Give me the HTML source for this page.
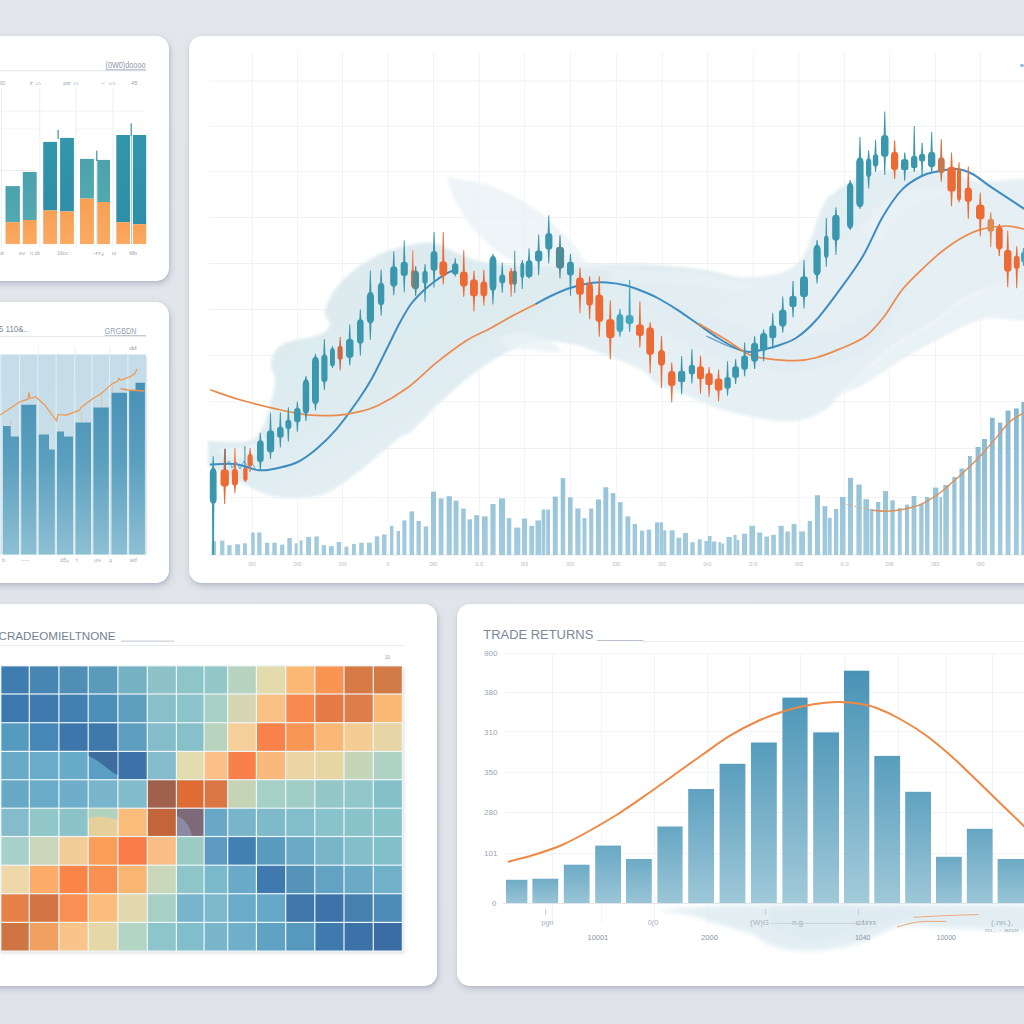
<!DOCTYPE html>
<html lang="en">
<head>
<meta charset="utf-8">
<title>Trading Dashboard</title>
<style>
html,body{margin:0;padding:0;}
body{width:1024px;height:1024px;overflow:hidden;position:relative;
 background:linear-gradient(180deg,#e3e6eb 0%,#e1e5ea 50%,#e0e4ea 100%);
 font-family:"Liberation Sans",sans-serif;}
.panel{position:absolute;background:#fff;border-radius:13px;
 box-shadow:1px 3px 6px rgba(105,115,140,0.34),1px 1px 2px rgba(105,115,140,0.10);overflow:hidden;}
.panel svg{position:absolute;left:0;top:0;display:block;}
#p1{left:-20px;top:36px;width:188.5px;height:245px;}
#p2{left:-20px;top:301.5px;width:188.5px;height:281.5px;}
#p3{left:189px;top:36px;width:860.5px;height:547px;}
#p4{left:-20px;top:604px;width:457px;height:381.5px;}
#p5{left:457px;top:604px;width:600px;height:381.5px;}
text{font-family:"Liberation Sans",sans-serif;}
</style>
</head>
<body>
<svg width="0" height="0" style="position:absolute">
<defs>
<linearGradient id="p1d" x1="0" y1="0" x2="0" y2="1"><stop offset="0" stop-color="#3296ab"/><stop offset="1" stop-color="#2f8ea8"/></linearGradient>
<linearGradient id="p1l" x1="0" y1="0" x2="0" y2="1"><stop offset="0" stop-color="#4aa2ad"/><stop offset="1" stop-color="#53a9b0"/></linearGradient>
<linearGradient id="p1o" x1="0" y1="0" x2="0" y2="1"><stop offset="0" stop-color="#f7a056"/><stop offset="1" stop-color="#fbaa62"/></linearGradient>
<linearGradient id="p2bg" x1="0" y1="0" x2="0" y2="1"><stop offset="0" stop-color="#c3dce8"/><stop offset="1" stop-color="#cfe3ec"/></linearGradient>
<linearGradient id="p2bar" gradientUnits="userSpaceOnUse" x1="0" y1="382" x2="0" y2="554"><stop offset="0" stop-color="#4790b6"/><stop offset="0.45" stop-color="#5a9fbe"/><stop offset="1" stop-color="#8dbfd3"/></linearGradient>
<linearGradient id="vol" gradientUnits="userSpaceOnUse" x1="0" y1="400" x2="0" y2="555"><stop offset="0" stop-color="#84b8d1"/><stop offset="1" stop-color="#a3cbde"/></linearGradient>
<linearGradient id="p5bar" gradientUnits="userSpaceOnUse" x1="0" y1="670" x2="0" y2="903"><stop offset="0" stop-color="#4893b6"/><stop offset="0.5" stop-color="#68a8c4"/><stop offset="1" stop-color="#a3cbda"/></linearGradient>
<linearGradient id="bandg" gradientUnits="userSpaceOnUse" x1="300" y1="250" x2="420" y2="480"><stop offset="0" stop-color="#dbe9ef"/><stop offset="0.6" stop-color="#ddebf0"/><stop offset="1" stop-color="#e5f0f4"/></linearGradient>
<filter id="soft" x="-5%" y="-5%" width="110%" height="110%"><feGaussianBlur stdDeviation="1.6"/></filter>
<filter id="soft2" x="-5%" y="-20%" width="110%" height="140%"><feGaussianBlur stdDeviation="2.5"/></filter>
</defs>
</svg>

<div class="panel" id="p1">
<svg width="188.5" height="245" viewBox="-20 36 188.5 245">
<text x="105.5" y="67.6" font-size="8.5" fill="#8b98a8" textLength="40" lengthAdjust="spacingAndGlyphs">(0W0)doooo</text>
<rect x="0" y="70.4" width="146" height="0.8" fill="#d9dee5"/>
<rect x="105.5" y="69.3" width="40.5" height="1" fill="#a9b3c0"/>
<text x="0" y="85.3" font-size="5.5" fill="#9aa6b5" textLength="6" lengthAdjust="spacingAndGlyphs">6D.</text>
<text x="30" y="85.3" font-size="5.5" fill="#9aa6b5" textLength="11" lengthAdjust="spacingAndGlyphs">r ⌂</text>
<text x="63" y="85.3" font-size="5.5" fill="#9aa6b5" textLength="16" lengthAdjust="spacingAndGlyphs">or ⌂</text>
<text x="101" y="85.3" font-size="5.5" fill="#9aa6b5" textLength="15" lengthAdjust="spacingAndGlyphs">- ⌂</text>
<text x="131" y="85.3" font-size="5.5" fill="#9aa6b5" textLength="6.5" lengthAdjust="spacingAndGlyphs">45</text>
<rect x="1.3" y="88" width="0.7" height="160" fill="#e6e9ee"/>
<rect x="39.5" y="88" width="0.7" height="160" fill="#e6e9ee"/>
<rect x="75.7" y="88" width="0.7" height="160" fill="#e6e9ee"/>
<rect x="112.6" y="88" width="0.7" height="160" fill="#e6e9ee"/>
<rect x="0" y="110.7" width="144" height="0.7" fill="#e9ecf0"/>
<rect x="0" y="128.6" width="40" height="0.7" fill="#eef0f3"/>
<rect x="76" y="128.6" width="36" height="0.7" fill="#eef0f3"/>
<rect x="0" y="170.4" width="36" height="0.7" fill="#e3e7ec"/>
<rect x="5.5" y="186.1" width="14.4" height="36.1" fill="url(#p1l)"/>
<rect x="5.5" y="222.2" width="14.4" height="21.9" fill="url(#p1o)"/>
<rect x="22.8" y="172" width="13.9" height="48" fill="url(#p1l)"/>
<rect x="22.8" y="220" width="13.9" height="24.1" fill="url(#p1o)"/>
<rect x="43.2" y="141.9" width="13.8" height="68.6" fill="url(#p1d)"/>
<rect x="43.2" y="210.5" width="13.8" height="33.6" fill="url(#p1o)"/>
<rect x="60.1" y="137.9" width="13.8" height="73.5" fill="url(#p1d)"/>
<rect x="60.1" y="211.4" width="13.8" height="32.7" fill="url(#p1o)"/>
<rect x="80" y="158.9" width="13.9" height="39.7" fill="url(#p1l)"/>
<rect x="80" y="198.6" width="13.9" height="45.5" fill="url(#p1o)"/>
<rect x="97.2" y="159.9" width="12.8" height="42.1" fill="url(#p1l)"/>
<rect x="97.2" y="202" width="12.8" height="42.1" fill="url(#p1o)"/>
<rect x="116.3" y="135" width="13.7" height="87.2" fill="url(#p1d)"/>
<rect x="116.3" y="222.2" width="13.7" height="21.9" fill="url(#p1o)"/>
<rect x="132.9" y="135" width="13.3" height="89.2" fill="url(#p1d)"/>
<rect x="132.9" y="224.2" width="13.3" height="19.9" fill="url(#p1o)"/>
<rect x="57.5" y="130" width="1.2" height="9" fill="#3c8fa5"/>
<rect x="96.2" y="150.7" width="1.2" height="10.300000000000011" fill="#3c8fa5"/>
<rect x="130.6" y="123.3" width="1.2" height="12.700000000000003" fill="#3c8fa5"/>
<rect x="130.9" y="136" width="0.8" height="108" fill="#7fb6c4"/>
<rect x="96.4" y="161" width="0.8" height="83" fill="#c9dfe2"/>
<rect x="57.9" y="139" width="0.6" height="105" fill="#dfeaec"/>
<text x="0" y="254.8" font-size="5.5" fill="#9aa6b5" textLength="4" lengthAdjust="spacingAndGlyphs">dr</text>
<text x="19" y="254.8" font-size="5.5" fill="#9aa6b5" textLength="6" lengthAdjust="spacingAndGlyphs">ev</text>
<text x="30" y="254.8" font-size="5.5" fill="#9aa6b5" textLength="10" lengthAdjust="spacingAndGlyphs">n cb</text>
<text x="57" y="254.8" font-size="5.5" fill="#9aa6b5" textLength="11" lengthAdjust="spacingAndGlyphs">1llcv</text>
<text x="93" y="254.8" font-size="5.5" fill="#9aa6b5" textLength="11" lengthAdjust="spacingAndGlyphs">-rr₃</text>
<text x="112" y="254.8" font-size="5.5" fill="#9aa6b5" textLength="4" lengthAdjust="spacingAndGlyphs">u</text>
<text x="129" y="254.8" font-size="5.5" fill="#9aa6b5" textLength="8" lengthAdjust="spacingAndGlyphs">tlb</text>
</svg>
</div>

<div class="panel" id="p2">
<svg width="188.5" height="281.5" viewBox="-20 301.5 188.5 281.5">
<text x="-1" y="331.6" font-size="9.5" fill="#7d8a9b" textLength="29" lengthAdjust="spacingAndGlyphs">5 110&amp;..</text>
<text x="104.6" y="333" font-size="8.5" fill="#97a3b2" textLength="32" lengthAdjust="spacingAndGlyphs">GRGBDN</text>
<rect x="0" y="335.4" width="146" height="0.8" fill="#d9dee5"/>
<rect x="104.6" y="334.6" width="41.4" height="0.8" fill="#b3bcc8"/>
<text x="129.6" y="349.6" font-size="5.5" fill="#8e9aa9" textLength="7" lengthAdjust="spacingAndGlyphs">dd</text>
<rect x="37.9" y="346" width="0.6" height="8" fill="#e3e7ec"/>
<rect x="74.8" y="346" width="0.6" height="8" fill="#e3e7ec"/>
<rect x="109.6" y="346" width="0.6" height="8" fill="#e3e7ec"/>
<rect x="0" y="354" width="146" height="200" fill="url(#p2bg)"/>
<path d="M3,554 L3,425.4 L10.8,425.4 L10.8,436 L19,436 L19,554Z" fill="url(#p2bar)"/>
<path d="M21.3,554 L21.3,404.3 L36.2,404.3 L36.2,554Z" fill="url(#p2bar)"/>
<path d="M38.5,554 L38.5,434 L49,434 L49,449 L54.8,449 L54.8,554Z" fill="url(#p2bar)"/>
<path d="M56.8,554 L56.8,431 L64,431 L64,436 L73,436 L73,554Z" fill="url(#p2bar)"/>
<path d="M75.2,554 L75.2,422 L91,422 L91,554Z" fill="url(#p2bar)"/>
<path d="M93.4,554 L93.4,407.1 L108.8,407.1 L108.8,554Z" fill="url(#p2bar)"/>
<path d="M111.6,554 L111.6,392.2 L127,392.2 L127,554Z" fill="url(#p2bar)"/>
<path d="M129.2,554 L129.2,389.7 L135.5,389.7 L135.5,382.2 L144.9,382.2 L144.9,554Z" fill="url(#p2bar)"/>
<rect x="0.30000000000000004" y="354" width="1" height="200" fill="#e4f1f6"/>
<rect x="19.1" y="354" width="1" height="200" fill="#e4f1f6"/>
<rect x="37.4" y="354" width="1" height="200" fill="#e4f1f6"/>
<rect x="55.6" y="354" width="1" height="200" fill="#e4f1f6"/>
<rect x="74.3" y="354" width="1" height="200" fill="#e4f1f6"/>
<rect x="91.4" y="354" width="1" height="200" fill="#e4f1f6"/>
<rect x="109.1" y="354" width="1" height="200" fill="#e4f1f6"/>
<rect x="127.4" y="354" width="1" height="200" fill="#e4f1f6"/>
<polyline points="0,414.6 10,408 20,401.3 28,398.6 29,392 30,398 35.7,396.3 44.9,404.7 56.5,420.5 58,414 66.4,414.6 79.7,409.6 81,407 93,398 101.3,393 111.3,383.9 118,380.5 119,377.5 120.5,379.7 129.6,376.4 135,373 137,368.6" fill="none" stroke="#f0964e" stroke-width="1.2" stroke-linejoin="round"/>
<polyline points="120.4,388 128,389.5 136,390 144.5,390.5" fill="none" stroke="#e8935a" stroke-width="1.6"/>
<rect x="81.5" y="410" width="0.6" height="12" fill="#e9b48d"/>
<rect x="101.5" y="394" width="0.6" height="13" fill="#e9b48d"/>
<rect x="112" y="385" width="0.6" height="8" fill="#e9b48d"/>
<rect x="10.5" y="420" width="0.6" height="7" fill="#e9b48d"/>
<rect x="146" y="356" width="1.2" height="198" fill="#e4e8ec"/>
<text x="2" y="561.5" font-size="5" fill="#a3aebb" textLength="3" lengthAdjust="spacingAndGlyphs">b</text>
<text x="21" y="561.5" font-size="5" fill="#a3aebb" textLength="9" lengthAdjust="spacingAndGlyphs">---</text>
<text x="60" y="561.5" font-size="5" fill="#a3aebb" textLength="9" lengthAdjust="spacingAndGlyphs">d5₃</text>
<text x="76" y="561.5" font-size="5" fill="#a3aebb" textLength="2" lengthAdjust="spacingAndGlyphs">h</text>
<text x="94" y="561.5" font-size="5" fill="#a3aebb" textLength="7" lengthAdjust="spacingAndGlyphs">ure</text>
<text x="109" y="561.5" font-size="5" fill="#a3aebb" textLength="3" lengthAdjust="spacingAndGlyphs">q</text>
<text x="130" y="561.5" font-size="5" fill="#a3aebb" textLength="7" lengthAdjust="spacingAndGlyphs">adf</text>
</svg>
</div>

<div class="panel" id="p3">
<svg width="860.5" height="547" viewBox="189 36 860.5 547">
<g id="grid">
<rect x="251.8" y="52" width="0.8" height="503" fill="#eff1f4"/>
<rect x="297.1" y="52" width="0.8" height="503" fill="#eff1f4"/>
<rect x="342.2" y="52" width="0.8" height="503" fill="#eff1f4"/>
<rect x="387.6" y="52" width="0.8" height="503" fill="#eff1f4"/>
<rect x="433" y="52" width="0.8" height="503" fill="#eff1f4"/>
<rect x="478.8" y="52" width="0.8" height="503" fill="#eff1f4"/>
<rect x="524.3" y="52" width="0.8" height="503" fill="#eff1f4"/>
<rect x="570" y="52" width="0.8" height="503" fill="#eff1f4"/>
<rect x="615.9" y="52" width="0.8" height="503" fill="#eff1f4"/>
<rect x="661.8" y="52" width="0.8" height="503" fill="#eff1f4"/>
<rect x="707" y="52" width="0.8" height="503" fill="#eff1f4"/>
<rect x="752.8" y="52" width="0.8" height="503" fill="#eff1f4"/>
<rect x="798.6" y="52" width="0.8" height="503" fill="#eff1f4"/>
<rect x="844.2" y="52" width="0.8" height="503" fill="#eff1f4"/>
<rect x="889.1" y="52" width="0.8" height="503" fill="#eff1f4"/>
<rect x="935.1" y="52" width="0.8" height="503" fill="#eff1f4"/>
<rect x="980.1" y="52" width="0.8" height="503" fill="#eff1f4"/>
<rect x="209" y="80.6" width="820" height="0.8" fill="#eceef1"/>
<rect x="209" y="125.8" width="820" height="0.8" fill="#eceef1"/>
<rect x="209" y="171.4" width="820" height="0.8" fill="#eceef1"/>
<rect x="209" y="217.1" width="820" height="0.8" fill="#eceef1"/>
<rect x="209" y="263" width="820" height="0.8" fill="#eceef1"/>
<rect x="209" y="309" width="820" height="0.8" fill="#eceef1"/>
<rect x="209" y="354.9" width="820" height="0.8" fill="#eceef1"/>
<rect x="209" y="401.4" width="820" height="0.8" fill="#eceef1"/>
<rect x="209" y="448" width="820" height="0.8" fill="#eceef1"/>
<line x1="209" y1="497.6" x2="1030" y2="497.6" stroke="#e2e6eb" stroke-width="0.8" stroke-dasharray="2 1.5"/>
<rect x="209" y="554.6" width="820" height="0.8" fill="#dfe5ea"/>
<text x="248.2" y="566" font-size="5.5" fill="#b3bcc7" textLength="8" lengthAdjust="spacingAndGlyphs">000</text>
<text x="293.5" y="566" font-size="5.5" fill="#b3bcc7" textLength="8" lengthAdjust="spacingAndGlyphs">0/0</text>
<text x="338.6" y="566" font-size="5.5" fill="#b3bcc7" textLength="8" lengthAdjust="spacingAndGlyphs">000</text>
<text x="386.5" y="566" font-size="5.5" fill="#b3bcc7" textLength="3" lengthAdjust="spacingAndGlyphs">0</text>
<text x="429.4" y="566" font-size="5.5" fill="#b3bcc7" textLength="8" lengthAdjust="spacingAndGlyphs">0l0</text>
<text x="475.2" y="566" font-size="5.5" fill="#b3bcc7" textLength="8" lengthAdjust="spacingAndGlyphs">0.0</text>
<text x="520.7" y="566" font-size="5.5" fill="#b3bcc7" textLength="8" lengthAdjust="spacingAndGlyphs">0l1</text>
<text x="566.4" y="566" font-size="5.5" fill="#b3bcc7" textLength="8" lengthAdjust="spacingAndGlyphs">000</text>
<text x="612.3" y="566" font-size="5.5" fill="#b3bcc7" textLength="8" lengthAdjust="spacingAndGlyphs">0l0</text>
<text x="658.2" y="566" font-size="5.5" fill="#b3bcc7" textLength="8" lengthAdjust="spacingAndGlyphs">000</text>
<text x="703.4" y="566" font-size="5.5" fill="#b3bcc7" textLength="8" lengthAdjust="spacingAndGlyphs">0n0</text>
<text x="749.2" y="566" font-size="5.5" fill="#b3bcc7" textLength="8" lengthAdjust="spacingAndGlyphs">0.0</text>
<text x="795" y="566" font-size="5.5" fill="#b3bcc7" textLength="8" lengthAdjust="spacingAndGlyphs">0l0</text>
<text x="840.6" y="566" font-size="5.5" fill="#b3bcc7" textLength="8" lengthAdjust="spacingAndGlyphs">0.0</text>
<text x="885.5" y="566" font-size="5.5" fill="#b3bcc7" textLength="8" lengthAdjust="spacingAndGlyphs">0ll</text>
<text x="931.5" y="566" font-size="5.5" fill="#b3bcc7" textLength="8" lengthAdjust="spacingAndGlyphs">0l0</text>
<text x="976.5" y="566" font-size="5.5" fill="#b3bcc7" textLength="8" lengthAdjust="spacingAndGlyphs">0l0</text>
</g>
<g id="band">
<path d="M208,441 C214.7,441 239,443.2 248,441 C257,438.8 258.2,434.5 262,428 C265.8,421.5 268.8,410 271,402 C273.2,394 275,386.7 275,380 C275,373.3 269.7,368 271,362 C272.3,356 275.2,348.5 283,344 C290.8,339.5 310.2,338.2 318,335 C325.8,331.8 328.8,329 330,325 C331.2,321 323.3,318 325,311 C326.7,304 332.2,291.8 340,283 C347.8,274.2 360.8,264.2 372,258 C383.2,251.8 396.7,248 407,245.5 C417.3,243 426,241.9 434,243 C442,244.1 448.2,249.2 455,252 C461.8,254.8 467.5,258 475,260 C482.5,262 490,263.2 500,264 C510,264.8 525,264.8 535,265 C545,265.2 548.2,265.1 560,265 C571.8,264.9 592.7,264.7 606,264.5 C619.3,264.3 624.6,263.3 640,264 C655.4,264.7 682.3,266.7 698.6,268.8 C714.9,270.9 727.3,275.3 737.7,276.6 C748.1,277.9 752.9,277.6 761,276.6 C769.1,275.6 779.7,273.8 786.5,270.7 C793.3,267.6 797.8,263.9 802,258 C806.2,252.1 808.3,244.1 812,235 C815.7,225.9 820,210.5 824,203.3 C828,196.1 831.9,194.8 835.7,191.6 C839.5,188.3 840.8,187.1 847,183.8 C853.2,180.5 863.7,174.5 873,172 C882.3,169.5 893,169.3 903,169 C913,168.7 924.3,169.2 933,170 C941.7,170.8 947.2,172.2 955,174 C962.8,175.8 967.5,180.3 980,181 C992.5,181.7 1021.7,178.5 1030,178 L1030,277 C1020.4,280 989.1,287.2 972.6,295 C956.1,302.8 944.8,315 931,324 C917.2,333 902.2,340 890,349 C877.8,358 866.3,370.4 858,378 C849.7,385.6 845.4,389.4 840,394.7 C834.6,400 831.8,405.8 825.5,410 C819.2,414.2 810.1,418.2 802,420 C793.9,421.8 785.8,421.7 776.7,421 C767.6,420.3 757.2,418.1 747.4,416 C737.6,413.9 727.8,411.6 718,408.4 C708.2,405.2 698.5,400.6 688.8,396.7 C679,392.8 667.6,389.6 659.5,385 C651.4,380.4 648.2,374.1 640,369.4 C631.8,364.7 621.8,361.3 610,357 C598.2,352.7 582.7,345.8 569,343.6 C555.3,341.4 541.7,340.2 528,343.6 C514.3,347 500.7,355.1 487,364 C473.3,372.9 458.3,386 446,397 C433.7,408 420.7,423.2 413,430 C405.3,436.8 406.2,432.9 400,437.6 C393.8,442.3 383.1,452 375.8,458 C368.5,464 364.1,467.9 356,473.7 C347.9,479.5 336.7,488.9 327,493 C317.3,497.1 307.5,497.7 297.7,498 C287.9,498.3 277.8,497.8 268,495 C258.2,492.2 249,486.3 239,481.5 C229,476.7 213.2,468.6 208,466Z" fill="url(#bandg)" opacity="0.95" filter="url(#soft)"/>
<path d="M447,177.5 C450.8,178.1 462.2,179.4 470,181 C477.8,182.6 484.8,183.4 494,187 C503.2,190.6 515.7,196.8 525,202.5 C534.3,208.2 541.7,213.8 550,221 C558.3,228.2 568.2,238.9 575,246 C581.8,253.1 579.8,260.2 590.6,263.4 C601.4,266.6 631.8,264.7 640,265 L640,270 C626.7,269.7 579.2,268.8 560,268 C540.8,267.2 534.5,267.1 525,265 C515.5,262.9 510.3,260.3 503,255.6 C495.7,250.9 487,242.8 481,237 C475,231.2 471.2,226.8 467,221 C462.8,215.2 459,208.5 456,202.5 C453,196.5 450.2,187.9 449,185Z" fill="#e8f1f5" opacity="0.75" filter="url(#soft)"/>
<path d="M840,394 C848.3,386.5 874.8,360.7 890,349 C905.2,337.3 917.2,333 931,324 C944.8,315 956.1,302.8 972.6,295 C989.1,287.2 1020.4,273.2 1030,277 C1039.6,280.8 1037.5,311 1030,318 C1022.5,325 999.2,316 985,319 C970.8,322 959.2,329 945,336 C930.8,343 913.8,352.7 900,361 C886.2,369.3 868.3,381.8 862,386Z" fill="#e6f0f4" opacity="0.85" filter="url(#soft)"/>
<path d="M500,338 C503.3,337 512,331.7 520,332 C528,332.3 541.3,336.7 548,340 C554.7,343.3 563,350.3 560,352 C557,353.7 539.2,350.7 530,350 C520.8,349.3 509.2,348.3 505,348Z" fill="#eaf3f6" opacity="0.8" filter="url(#soft)"/>
<path d="M640,300 C650,301.7 680,305 700,310 C720,315 738.3,326.7 760,330 C781.7,333.3 810,335 830,330 C850,325 868.3,310 880,300 C891.7,290 895.8,270 900,270 C904.2,270 910,286.7 905,300 C900,313.3 887.5,338 870,350 C852.5,362 825,370.3 800,372 C775,373.7 743.3,367 720,360 C696.7,353 670,335 660,330Z" fill="#deecf1" opacity="0.5" filter="url(#soft)"/>
<path d="M215,448 C220.8,447.7 242.2,448 250,446 C257.8,444 259,436 262,436 C265,436 269.2,442.7 268,446 C266.8,449.3 262.2,454 255,456 C247.8,458 230,457.7 225,458Z" fill="#eef5f8" opacity="0.7" filter="url(#soft)"/>
<path d="M860,230 C864.2,225 875.8,207 885,200 C894.2,193 904.2,189.7 915,188 C925.8,186.3 947.5,188 950,190 C952.5,192 938.3,195.8 930,200 C921.7,204.2 908.3,207.5 900,215 C891.7,222.5 883.3,240 880,245Z" fill="#eaf3f6" opacity="0.6" filter="url(#soft)"/>
<path d="M610,270 C621.7,270.3 658.3,270 680,272 C701.7,274 725,280.3 740,282 C755,283.7 770,280.7 770,282 C770,283.3 755,289.7 740,290 C725,290.3 701.7,285.7 680,284 C658.3,282.3 621.7,280.7 610,280Z" fill="#e9f2f6" opacity="0.7" filter="url(#soft)"/>
</g>
<g id="volume">
<rect x="211.7" y="541.3" width="4.3" height="13.7" fill="url(#vol)"/>
<rect x="220.1" y="540.7" width="4.3" height="14.3" fill="url(#vol)"/>
<rect x="227.3" y="545.2" width="4.3" height="9.8" fill="url(#vol)"/>
<rect x="235.2" y="544.3" width="4.9" height="10.7" fill="url(#vol)"/>
<rect x="243" y="543.3" width="3.9" height="11.7" fill="url(#vol)"/>
<rect x="251.2" y="532.5" width="3.5" height="22.5" fill="url(#vol)"/>
<rect x="257.2" y="532.5" width="4.3" height="22.5" fill="url(#vol)"/>
<rect x="265" y="542.7" width="4.3" height="12.3" fill="url(#vol)"/>
<rect x="272.3" y="542.7" width="4.5" height="12.3" fill="url(#vol)"/>
<rect x="280.1" y="544.6" width="4.3" height="10.4" fill="url(#vol)"/>
<rect x="287.3" y="538" width="4.5" height="17" fill="url(#vol)"/>
<rect x="294.7" y="543.3" width="2.9" height="11.7" fill="url(#vol)"/>
<rect x="299.6" y="540.4" width="2.9" height="14.6" fill="url(#vol)"/>
<rect x="306.1" y="537" width="4.9" height="18" fill="url(#vol)"/>
<rect x="314.3" y="536.4" width="4.5" height="18.6" fill="url(#vol)"/>
<rect x="321.7" y="545.2" width="4.3" height="9.8" fill="url(#vol)"/>
<rect x="328.9" y="546.2" width="4.9" height="8.8" fill="url(#vol)"/>
<rect x="336.7" y="542" width="4.3" height="13" fill="url(#vol)"/>
<rect x="344.5" y="546.6" width="3.9" height="8.4" fill="url(#vol)"/>
<rect x="352" y="543.9" width="3.9" height="11.1" fill="url(#vol)"/>
<rect x="359.2" y="542.7" width="4.5" height="12.3" fill="url(#vol)"/>
<rect x="367" y="542.7" width="4.9" height="12.3" fill="url(#vol)"/>
<rect x="374.8" y="536.4" width="4.5" height="18.6" fill="url(#vol)"/>
<rect x="382" y="534.5" width="4.5" height="20.5" fill="url(#vol)"/>
<rect x="390" y="525.8" width="3.4" height="29.2" fill="url(#vol)"/>
<rect x="396.7" y="531" width="3.3" height="24" fill="url(#vol)"/>
<rect x="402.4" y="520.4" width="4" height="34.6" fill="url(#vol)"/>
<rect x="409.5" y="511.4" width="4.5" height="43.6" fill="url(#vol)"/>
<rect x="416.5" y="521" width="4.3" height="34" fill="url(#vol)"/>
<rect x="423.7" y="526.5" width="4.5" height="28.5" fill="url(#vol)"/>
<rect x="431" y="491.7" width="5" height="63.3" fill="url(#vol)"/>
<rect x="438.7" y="498.4" width="4.8" height="56.6" fill="url(#vol)"/>
<rect x="446.6" y="496.2" width="5.2" height="58.8" fill="url(#vol)"/>
<rect x="453.6" y="500.6" width="4.9" height="54.4" fill="url(#vol)"/>
<rect x="461.2" y="508.5" width="4.5" height="46.5" fill="url(#vol)"/>
<rect x="467.5" y="519.3" width="4.5" height="35.7" fill="url(#vol)"/>
<rect x="474.2" y="515.2" width="5" height="39.8" fill="url(#vol)"/>
<rect x="482" y="516.4" width="5.7" height="38.6" fill="url(#vol)"/>
<rect x="490.4" y="504" width="5.2" height="51" fill="url(#vol)"/>
<rect x="499" y="498.4" width="6" height="56.6" fill="url(#vol)"/>
<rect x="506.8" y="518.2" width="4.5" height="36.8" fill="url(#vol)"/>
<rect x="514.2" y="527.6" width="6.1" height="27.4" fill="url(#vol)"/>
<rect x="522" y="518.6" width="5" height="36.4" fill="url(#vol)"/>
<rect x="529.3" y="525.8" width="4.9" height="29.2" fill="url(#vol)"/>
<rect x="535.5" y="520.4" width="5.5" height="34.6" fill="url(#vol)"/>
<rect x="541.6" y="509.6" width="3.8" height="45.4" fill="url(#vol)"/>
<rect x="546.2" y="509.6" width="3.8" height="45.4" fill="url(#vol)"/>
<rect x="552.8" y="496.6" width="5" height="58.4" fill="url(#vol)"/>
<rect x="560.7" y="478.2" width="4.5" height="76.8" fill="url(#vol)"/>
<rect x="568" y="497.3" width="4.6" height="57.7" fill="url(#vol)"/>
<rect x="575.3" y="508.5" width="5.2" height="46.5" fill="url(#vol)"/>
<rect x="582.5" y="518.2" width="4" height="36.8" fill="url(#vol)"/>
<rect x="589.2" y="508.5" width="4.1" height="46.5" fill="url(#vol)"/>
<rect x="596" y="499.5" width="5" height="55.5" fill="url(#vol)"/>
<rect x="603.4" y="487.2" width="4.9" height="67.8" fill="url(#vol)"/>
<rect x="610.8" y="493.2" width="4.5" height="61.8" fill="url(#vol)"/>
<rect x="618" y="502.2" width="4.5" height="52.8" fill="url(#vol)"/>
<rect x="625.4" y="516.4" width="4.9" height="38.6" fill="url(#vol)"/>
<rect x="632.6" y="524" width="4.4" height="31" fill="url(#vol)"/>
<rect x="640" y="530.7" width="4.2" height="24.3" fill="url(#vol)"/>
<rect x="646.7" y="529.6" width="4.5" height="25.4" fill="url(#vol)"/>
<rect x="655" y="522.4" width="4.4" height="32.6" fill="url(#vol)"/>
<rect x="659.8" y="522.4" width="3.2" height="32.6" fill="url(#vol)"/>
<rect x="663.2" y="530.3" width="3.1" height="24.7" fill="url(#vol)"/>
<rect x="669.6" y="530.3" width="5" height="24.7" fill="url(#vol)"/>
<rect x="676.4" y="537.7" width="4.9" height="17.3" fill="url(#vol)"/>
<rect x="683" y="533" width="5" height="22" fill="url(#vol)"/>
<rect x="690.3" y="542.2" width="4.5" height="12.8" fill="url(#vol)"/>
<rect x="697.7" y="539.3" width="4" height="15.7" fill="url(#vol)"/>
<rect x="704.4" y="541" width="3.6" height="14" fill="url(#vol)"/>
<rect x="708" y="536" width="3.6" height="19" fill="url(#vol)"/>
<rect x="711.8" y="541.5" width="4.5" height="13.5" fill="url(#vol)"/>
<rect x="718.4" y="542" width="2.6" height="13" fill="url(#vol)"/>
<rect x="721.4" y="543.5" width="2.8" height="11.5" fill="url(#vol)"/>
<rect x="726.5" y="537" width="5.3" height="18" fill="url(#vol)"/>
<rect x="733.6" y="534.8" width="3" height="20.2" fill="url(#vol)"/>
<rect x="736.6" y="540" width="2.7" height="15" fill="url(#vol)"/>
<rect x="742" y="533.7" width="5" height="21.3" fill="url(#vol)"/>
<rect x="749.4" y="525.8" width="5.6" height="29.2" fill="url(#vol)"/>
<rect x="757.2" y="532.5" width="5" height="22.5" fill="url(#vol)"/>
<rect x="764.4" y="536.6" width="4.6" height="18.4" fill="url(#vol)"/>
<rect x="771.2" y="534.8" width="4.7" height="20.2" fill="url(#vol)"/>
<rect x="778.6" y="525.8" width="5.1" height="29.2" fill="url(#vol)"/>
<rect x="785.3" y="531.4" width="4.5" height="23.6" fill="url(#vol)"/>
<rect x="791.6" y="524" width="4.9" height="31" fill="url(#vol)"/>
<rect x="799.2" y="531.4" width="5.8" height="23.6" fill="url(#vol)"/>
<rect x="807.7" y="521" width="4.3" height="34" fill="url(#vol)"/>
<rect x="814.9" y="495.3" width="5.1" height="59.7" fill="url(#vol)"/>
<rect x="822.5" y="506.2" width="4.8" height="48.8" fill="url(#vol)"/>
<rect x="828" y="517.8" width="3.7" height="37.2" fill="url(#vol)"/>
<rect x="834" y="509" width="4.3" height="46" fill="url(#vol)"/>
<rect x="840" y="497" width="5.5" height="58" fill="url(#vol)"/>
<rect x="848" y="477.8" width="5" height="77.2" fill="url(#vol)"/>
<rect x="856.4" y="484.6" width="5.3" height="70.4" fill="url(#vol)"/>
<rect x="863.4" y="499.2" width="5.6" height="55.8" fill="url(#vol)"/>
<rect x="869.6" y="509" width="3.7" height="46" fill="url(#vol)"/>
<rect x="876" y="502" width="4.3" height="53" fill="url(#vol)"/>
<rect x="883" y="491.1" width="5" height="63.9" fill="url(#vol)"/>
<rect x="890.4" y="500.3" width="4.3" height="54.7" fill="url(#vol)"/>
<rect x="897.8" y="508" width="3.9" height="47" fill="url(#vol)"/>
<rect x="905" y="504.7" width="4" height="50.3" fill="url(#vol)"/>
<rect x="911.6" y="496" width="4.8" height="59" fill="url(#vol)"/>
<rect x="919.2" y="503.6" width="4.4" height="51.4" fill="url(#vol)"/>
<rect x="925" y="497" width="4.5" height="58" fill="url(#vol)"/>
<rect x="933" y="487.6" width="5.3" height="67.4" fill="url(#vol)"/>
<rect x="939.5" y="497" width="2.5" height="58" fill="url(#vol)"/>
<rect x="943.3" y="485" width="5.5" height="70" fill="url(#vol)"/>
<rect x="952.3" y="477" width="4.2" height="78" fill="url(#vol)"/>
<rect x="959.5" y="468.6" width="5" height="86.4" fill="url(#vol)"/>
<rect x="968" y="456" width="3.8" height="99" fill="url(#vol)"/>
<rect x="975.6" y="447" width="5" height="108" fill="url(#vol)"/>
<rect x="982" y="439" width="5" height="116" fill="url(#vol)"/>
<rect x="989.9" y="417.8" width="4.8" height="137.2" fill="url(#vol)"/>
<rect x="998" y="422.6" width="4.4" height="132.4" fill="url(#vol)"/>
<rect x="1005.6" y="410.6" width="4.9" height="144.4" fill="url(#vol)"/>
<rect x="1014" y="408.4" width="4.8" height="146.6" fill="url(#vol)"/>
<rect x="1021.4" y="402" width="4.6" height="153" fill="url(#vol)"/>
</g>
<g id="lines">
<path d="M210.7,464.5 C214.8,464.4 227,463.1 235,464 C243,464.9 251.4,469.5 258.6,470.2 C265.8,470.9 271.5,469.4 278,468 C284.5,466.6 291.2,465.3 297.7,462 C304.2,458.7 310.5,453.9 317,448.4 C323.5,442.9 329.8,436.9 336.7,428.8 C343.6,420.7 352.5,408.1 358.4,399.7 C364.3,391.3 367.1,387 372,378.2 C376.9,369.4 383.1,356.1 387.7,347 C392.3,337.9 395.5,330.7 399.4,323.5 C403.3,316.3 407.1,309.4 411,304 C414.9,298.6 418.9,295.1 422.8,291.3 C426.7,287.6 430.6,284.4 434.5,281.5 C438.4,278.6 443.4,275.4 446.3,273.7 C449.2,271.9 451.1,271.4 452,271" fill="none" stroke="#3f8cc0" stroke-width="2" stroke-linecap="round"/>
<path d="M210.7,390 C215.4,391.6 227.8,396.3 239,399.5 C250.2,402.7 266.6,406.8 278,409.3 C289.4,411.9 297.6,413.8 307.4,414.8 C317.2,415.8 328.6,415.7 336.7,415.3 C344.8,414.9 349.1,414 356,412.4 C362.9,410.8 369.4,409.6 377.9,405.5 C386.4,401.4 397.4,395.1 407.2,388 C417,380.9 426.7,370.4 436.5,362.6 C446.3,354.8 456.9,346.7 465.8,341 C474.7,335.3 481.8,332.8 490,328.4 C498.2,324 507.3,318.6 515,314.5 C522.7,310.4 532.8,305.4 536.4,303.6" fill="none" stroke="#ec8a4c" stroke-width="1.7" stroke-linecap="round"/>
<path d="M536.4,303.6 C539.2,302.2 547.1,297.7 553,295 C558.9,292.3 565.3,289.5 571.6,287.5 C577.9,285.5 585.1,283.8 591,283 C596.9,282.2 600.8,282.1 606.7,282.5 C612.6,282.9 619.8,283.8 626.3,285.5 C632.8,287.2 640.3,290.2 645.8,292.5 C651.3,294.8 654,295.9 659.5,299 C665,302.1 672.5,306.6 679,310.8 C685.5,315.1 692.1,320 698.6,324.5 C705.1,329 711.5,333.9 718,338 C724.5,342.1 732.4,346.6 737.7,348.9 C743,351.2 745.5,352 750,352 C754.5,352 760.5,350 765,349 C769.5,348 771.5,347.8 776.7,346 C781.9,344.2 789.5,342.2 796,338 C802.5,333.8 808.5,328.6 815.8,320.5 C823.1,312.4 832.1,300.1 840,289.3 C847.9,278.6 855.9,268.1 863,256 C870.1,243.9 876.1,228.1 882.6,217 C889.1,205.9 895.5,196.4 902,189.6 C908.5,182.8 915.8,179 921.7,176 C927.6,173 931.4,172.7 937.3,171.5 C943.1,170.3 950.9,168.6 956.8,169 C962.6,169.4 966.5,170.9 972.4,174 C978.3,177.1 983.1,181.7 992,187.7 C1000.9,193.7 1020.3,206.3 1026,210" fill="none" stroke="#3f8cc0" stroke-width="2" stroke-linecap="round"/>
<path d="M706.4,336 C710,337.7 721.5,343.3 728,346 C734.5,348.7 742.6,351 745.5,352" fill="none" stroke="#3f8cc0" stroke-width="1.2" opacity="0.8"/>
<path d="M698.6,323.5 C701,324.9 708.1,329.1 713,332 C717.9,334.9 721.9,337.2 728,341 C734.1,344.8 742.9,351.8 749.4,354.7 C755.9,357.6 759.2,357.6 767,358.6 C774.8,359.6 787.9,360.8 796,360.6 C804.1,360.5 808.5,359.6 815.8,357.7 C823.1,355.8 831.8,352.4 840,348.9 C848.2,345.4 857.8,341.8 865,336.7 C872.2,331.6 876.8,325.8 883,318 C889.2,310.2 895.5,298.1 902,290 C908.5,281.9 915.2,276 921.7,269.7 C928.2,263.4 934.7,257.2 941.2,252 C947.7,246.8 954.2,242.1 960.7,238.4 C967.2,234.7 973.8,231.6 980.3,229.6 C986.8,227.6 994.6,226.9 999.8,226.3 C1005,225.8 1007.1,225.8 1011.5,226.3 C1015.9,226.8 1023.6,229 1026,229.5" fill="none" stroke="#ec8a4c" stroke-width="1.7" stroke-linecap="round"/>
<path d="M843.8,503.6 C846.2,504.2 853.3,505.9 858,507 C862.7,508.1 869.8,509.7 872.2,510.2" fill="none" stroke="#d9a98a" stroke-width="1" stroke-dasharray="2 1.5"/>
<path d="M872.2,510.2 C874.8,510.4 882,511.5 887.5,511.3 C893,511.1 899.2,510.3 905,509 C910.8,507.7 916.7,506.3 922.5,503.6 C928.3,500.9 934.9,496.4 940,492.7 C945.1,489 948.6,485.5 953,481.7 C957.4,477.9 961.5,474.2 966.3,469.7 C971.1,465.1 976.5,459.9 981.6,454.4 C986.7,448.9 992.3,442.4 997,436.9 C1001.7,431.4 1005.2,425.8 1010,421.6 C1014.8,417.4 1023.3,413.2 1026,411.5" fill="none" stroke="#e08f5c" stroke-width="1.4"/>
<polyline points="225,465 229,461 232,468 236,462 240,469 244,461 248,467 252,463 256,470" fill="none" stroke="#4aa0d0" stroke-width="1" opacity="0.8"/>
</g>
<g id="candles">
<path d="M212.8,456 L213.6,456 L214.3,469.4 L212,469.4Z" fill="#3a97ad"/>
<path d="M212,502.5 L214.3,502.5 L213.6,554.8 L212.8,554.8Z" fill="#3a97ad"/>
<rect x="212.3" y="502" width="1.8" height="52.8" fill="#3a97ad"/>
<rect x="209.8" y="467.9" width="6.8" height="36.1" rx="3.2" ry="5.1" fill="#3a97ad"/>
<path d="M224.2,448.4 L225.1,448.4 L225.8,471 L223.5,471Z" fill="#ee6a35"/>
<path d="M223.5,484.9 L225.8,484.9 L225.1,504 L224.2,504Z" fill="#ee6a35"/>
<rect x="220.5" y="469.5" width="8.4" height="16.9" rx="2.4" ry="3.8" fill="#ee6a35"/>
<path d="M234.5,448 L235.3,448 L236.1,470.4 L233.8,470.4Z" fill="#ee6a35"/>
<path d="M233.8,484 L236.1,484 L235.3,493.3 L234.5,493.3Z" fill="#ee6a35"/>
<rect x="231.8" y="468.9" width="6.2" height="16.6" rx="2.4" ry="3.8" fill="#ee6a35"/>
<path d="M244.6,479.3 L246.2,479.3 L245.8,482 L244.9,482Z" fill="#ee6a35"/>
<rect x="243.2" y="467.5" width="4.4" height="13.3" rx="1.6" ry="2.6" fill="#ee6a35"/>
<path d="M249.7,448 L250.5,448 L251.2,455.7 L248.9,455.7Z" fill="#ee6a35"/>
<path d="M248.9,464.5 L251.2,464.5 L250.5,472 L249.7,472Z" fill="#ee6a35"/>
<rect x="247.5" y="454.2" width="5.2" height="11.8" rx="1.6" ry="2.6" fill="#ee6a35"/>
<path d="M259.9,432.7 L260.8,432.7 L261.5,442 L259.2,442Z" fill="#3a97ad"/>
<path d="M259.2,460.5 L261.5,460.5 L260.8,470.8 L259.9,470.8Z" fill="#3a97ad"/>
<rect x="257" y="440.5" width="6.7" height="21.5" rx="2.4" ry="3.8" fill="#3a97ad"/>
<path d="M270.1,412.8 L270.9,412.8 L271.6,431.9 L269.4,431.9Z" fill="#3a97ad"/>
<path d="M269.4,450.8 L271.6,450.8 L270.9,459 L270.1,459Z" fill="#3a97ad"/>
<rect x="266.8" y="430.4" width="7.4" height="21.9" rx="2.4" ry="3.8" fill="#3a97ad"/>
<path d="M279.9,412.2 L280.8,412.2 L281.5,428.4 L279.2,428.4Z" fill="#3a97ad"/>
<path d="M279.2,436.1 L281.5,436.1 L280.8,447.4 L279.9,447.4Z" fill="#3a97ad"/>
<rect x="277.1" y="426.9" width="6.5" height="10.7" rx="1.6" ry="2.6" fill="#3a97ad"/>
<path d="M287.9,407.3 L288.8,407.3 L289.5,421.5 L287.2,421.5Z" fill="#3a97ad"/>
<path d="M287.2,427.3 L289.5,427.3 L288.8,441.5 L287.9,441.5Z" fill="#3a97ad"/>
<rect x="285.4" y="420" width="6" height="8.8" rx="1.6" ry="2.6" fill="#3a97ad"/>
<path d="M296.9,401.5 L297.8,401.5 L298.5,409.8 L296.2,409.8Z" fill="#3a97ad"/>
<path d="M296.2,420.5 L298.5,420.5 L297.8,431.8 L296.9,431.8Z" fill="#3a97ad"/>
<rect x="294.1" y="408.3" width="6.5" height="13.7" rx="1.6" ry="2.6" fill="#3a97ad"/>
<path d="M305.5,376 L306.4,376 L307.1,380.7 L304.8,380.7Z" fill="#3a97ad"/>
<path d="M304.8,412.5 L307.1,412.5 L306.4,421 L305.5,421Z" fill="#3a97ad"/>
<rect x="302.7" y="379.2" width="6.5" height="34.8" rx="3.2" ry="5.1" fill="#3a97ad"/>
<path d="M315,354 L315.9,354 L316.6,358.2 L314.3,358.2Z" fill="#3a97ad"/>
<path d="M314.3,403.1 L316.6,403.1 L315.9,410.4 L315,410.4Z" fill="#3a97ad"/>
<rect x="312" y="356.7" width="6.9" height="47.9" rx="3.2" ry="5.1" fill="#3a97ad"/>
<path d="M323.9,339 L324.8,339 L325.5,356.3 L323.2,356.3Z" fill="#3a97ad"/>
<path d="M323.2,380.5 L325.5,380.5 L324.8,390 L323.9,390Z" fill="#3a97ad"/>
<rect x="321.3" y="354.8" width="6.2" height="27.2" rx="2.4" ry="3.8" fill="#3a97ad"/>
<path d="M332,346 L332.9,346 L333.2,349.5 L331.6,349.5Z" fill="#3a97ad"/>
<path d="M331.6,365 L333.2,365 L332.9,368 L332,368Z" fill="#3a97ad"/>
<rect x="330" y="348" width="4.9" height="18.5" rx="2.4" ry="3.8" fill="#3a97ad"/>
<path d="M339.7,337 L340.6,337 L341.2,347.5 L339,347.5Z" fill="#c9694a"/>
<path d="M339,358.1 L341.2,358.1 L340.6,370.4 L339.7,370.4Z" fill="#c9694a"/>
<rect x="337.5" y="346" width="5.2" height="13.6" rx="1.6" ry="2.6" fill="#c9694a"/>
<path d="M349.3,324.5 L350.2,324.5 L350.9,340.5 L348.6,340.5Z" fill="#3a97ad"/>
<path d="M348.6,356.2 L350.9,356.2 L350.2,365.5 L349.3,365.5Z" fill="#3a97ad"/>
<rect x="346" y="339" width="7.5" height="18.7" rx="2.4" ry="3.8" fill="#3a97ad"/>
<path d="M359.9,309.5 L360.8,309.5 L361.4,321.1 L359.2,321.1Z" fill="#3a97ad"/>
<path d="M359.2,342.1 L361.4,342.1 L360.8,355.7 L359.9,355.7Z" fill="#3a97ad"/>
<rect x="357" y="319.6" width="6.6" height="24" rx="2.4" ry="3.8" fill="#3a97ad"/>
<path d="M369.9,270.4 L370.8,270.4 L371.5,293.4 L369.2,293.4Z" fill="#3a97ad"/>
<path d="M369.2,322 L371.5,322 L370.8,340 L369.9,340Z" fill="#3a97ad"/>
<rect x="366.8" y="291.9" width="7.2" height="31.6" rx="3.2" ry="5.1" fill="#3a97ad"/>
<path d="M380.7,269.8 L381.6,269.8 L382.2,284.4 L380,284.4Z" fill="#3a97ad"/>
<path d="M380,303.5 L382.2,303.5 L381.6,315.7 L380.7,315.7Z" fill="#3a97ad"/>
<rect x="377.9" y="282.9" width="6.4" height="22.1" rx="2.4" ry="3.8" fill="#3a97ad"/>
<path d="M393.3,251.3 L394.2,251.3 L394.9,268 L392.6,268Z" fill="#3a97ad"/>
<path d="M392.6,284.9 L394.9,284.9 L394.2,295.2 L393.3,295.2Z" fill="#3a97ad"/>
<rect x="390.2" y="266.5" width="7.2" height="19.9" rx="2.4" ry="3.8" fill="#3a97ad"/>
<path d="M403.8,240.5 L404.7,240.5 L405.4,263.5 L403.1,263.5Z" fill="#3a97ad"/>
<path d="M403.1,274.2 L405.4,274.2 L404.7,292.3 L403.8,292.3Z" fill="#3a97ad"/>
<rect x="400.7" y="262" width="7.1" height="13.7" rx="1.6" ry="2.6" fill="#3a97ad"/>
<path d="M412.4,250.3 L413.2,250.3 L413.6,271.3 L412,271.3Z" fill="#ee6a35"/>
<path d="M412,285.9 L413.6,285.9 L413.2,288.4 L412.4,288.4Z" fill="#ee6a35"/>
<rect x="411" y="269.8" width="3.6" height="17.6" rx="1.8" ry="2.9" fill="#ee6a35"/>
<path d="M415.2,266 L416.1,266 L416.8,272.5 L414.6,272.5Z" fill="#4f8c98"/>
<path d="M414.6,287.8 L416.8,287.8 L416.1,296 L415.2,296Z" fill="#4f8c98"/>
<rect x="412.4" y="271" width="6.6" height="18.3" rx="2.4" ry="3.8" fill="#4f8c98"/>
<path d="M424.6,264 L425.5,264 L426.2,272.5 L423.9,272.5Z" fill="#3a97ad"/>
<path d="M423.9,282 L426.2,282 L425.5,302 L424.6,302Z" fill="#3a97ad"/>
<rect x="422.4" y="271" width="5.3" height="12.5" rx="1.6" ry="2.6" fill="#3a97ad"/>
<path d="M433.6,232 L434.5,232 L435.2,252.8 L432.9,252.8Z" fill="#3a97ad"/>
<path d="M432.9,269.3 L435.2,269.3 L434.5,287.4 L433.6,287.4Z" fill="#3a97ad"/>
<rect x="430.6" y="251.3" width="6.9" height="19.5" rx="2.4" ry="3.8" fill="#3a97ad"/>
<path d="M442.8,231.7 L443.7,231.7 L444.4,262.9 L442.1,262.9Z" fill="#ee6a35"/>
<path d="M442.1,274.2 L444.4,274.2 L443.7,284.5 L442.8,284.5Z" fill="#ee6a35"/>
<rect x="439.4" y="261.4" width="7.8" height="14.3" rx="2.4" ry="3.8" fill="#ee6a35"/>
<path d="M454.8,258 L455.6,258 L456.3,264.9 L454.1,264.9Z" fill="#3a97ad"/>
<path d="M454.1,272.8 L456.3,272.8 L455.6,276.6 L454.8,276.6Z" fill="#3a97ad"/>
<rect x="452" y="263.4" width="6.4" height="10.9" rx="1.6" ry="2.6" fill="#3a97ad"/>
<path d="M463.3,250.3 L464.2,250.3 L464.9,273.3 L462.6,273.3Z" fill="#ee6a35"/>
<path d="M462.6,284.9 L464.9,284.9 L464.2,297 L463.3,297Z" fill="#ee6a35"/>
<rect x="459.9" y="271.8" width="7.8" height="14.6" rx="2.4" ry="3.8" fill="#ee6a35"/>
<path d="M473.5,270.8 L474.4,270.8 L475.1,281.1 L472.8,281.1Z" fill="#ee6a35"/>
<path d="M472.8,294.7 L475.1,294.7 L474.4,311.4 L473.5,311.4Z" fill="#ee6a35"/>
<rect x="470" y="279.6" width="7.9" height="16.6" rx="2.4" ry="3.8" fill="#ee6a35"/>
<path d="M483.4,269.8 L484.3,269.8 L485,283 L482.7,283Z" fill="#ee6a35"/>
<path d="M482.7,294.7 L485,294.7 L484.3,305.5 L483.4,305.5Z" fill="#ee6a35"/>
<rect x="480.4" y="281.5" width="6.9" height="14.7" rx="2.4" ry="3.8" fill="#ee6a35"/>
<path d="M492.5,253.8 L493.4,253.8 L494.1,257.5 L491.8,257.5Z" fill="#3a97ad"/>
<path d="M491.8,289.4 L494.1,289.4 L493.4,304.5 L492.5,304.5Z" fill="#3a97ad"/>
<rect x="489.5" y="256" width="6.9" height="34.9" rx="3.2" ry="5.1" fill="#3a97ad"/>
<path d="M501.8,262.5 L502.7,262.5 L503.4,276.3 L501.1,276.3Z" fill="#3a97ad"/>
<path d="M501.1,281.5 L503.4,281.5 L502.7,292.8 L501.8,292.8Z" fill="#3a97ad"/>
<rect x="499.3" y="274.8" width="5.9" height="8.2" rx="1.6" ry="2.6" fill="#3a97ad"/>
<path d="M510.7,268 L511.6,268 L511.9,271.9 L510.3,271.9Z" fill="#ee6a35"/>
<path d="M510.3,283.5 L511.9,283.5 L511.6,296.7 L510.7,296.7Z" fill="#ee6a35"/>
<rect x="509" y="270.4" width="4.2" height="14.6" rx="2.1" ry="3.4" fill="#ee6a35"/>
<path d="M514.3,250.8 L515.2,250.8 L515.5,271.9 L514,271.9Z" fill="#4f8c98"/>
<path d="M514,283.5 L515.5,283.5 L515.2,293 L514.3,293Z" fill="#4f8c98"/>
<rect x="512.6" y="270.4" width="4.3" height="14.6" rx="2.1" ry="3.4" fill="#4f8c98"/>
<path d="M521.8,260 L522.8,260 L523.1,264 L521.5,264Z" fill="#3a97ad"/>
<path d="M521.5,276.5 L523.1,276.5 L522.8,289 L521.8,289Z" fill="#3a97ad"/>
<rect x="520.4" y="262.5" width="3.8" height="15.5" rx="1.9" ry="3" fill="#3a97ad"/>
<path d="M528.6,248.3 L529.5,248.3 L530.2,262.1 L527.9,262.1Z" fill="#3a97ad"/>
<path d="M527.9,275.7 L530.2,275.7 L529.5,278.5 L528.6,278.5Z" fill="#3a97ad"/>
<rect x="525.6" y="260.6" width="6.9" height="16.6" rx="2.4" ry="3.8" fill="#3a97ad"/>
<path d="M538.2,234.6 L539.1,234.6 L539.8,252.3 L537.5,252.3Z" fill="#3a97ad"/>
<path d="M537.5,259.7 L539.8,259.7 L539.1,275.2 L538.2,275.2Z" fill="#3a97ad"/>
<rect x="535" y="250.8" width="7.3" height="10.4" rx="1.6" ry="2.6" fill="#3a97ad"/>
<path d="M548.3,215.3 L549.2,215.3 L549.9,234.7 L547.6,234.7Z" fill="#3a97ad"/>
<path d="M547.6,248 L549.9,248 L549.2,263.5 L548.3,263.5Z" fill="#3a97ad"/>
<rect x="545.2" y="233.2" width="7.2" height="16.3" rx="2.4" ry="3.8" fill="#3a97ad"/>
<path d="M559.5,235.2 L560.5,235.2 L561.1,248.4 L558.9,248.4Z" fill="#4f8c98"/>
<path d="M558.9,266.9 L561.1,266.9 L560.5,278.6 L559.5,278.6Z" fill="#4f8c98"/>
<rect x="555.9" y="246.9" width="8.2" height="21.5" rx="2.4" ry="3.8" fill="#4f8c98"/>
<path d="M570,253.8 L570.9,253.8 L571.6,263.5 L569.3,263.5Z" fill="#3a97ad"/>
<path d="M569.3,273.7 L571.6,273.7 L570.9,295.7 L570,295.7Z" fill="#3a97ad"/>
<rect x="567" y="262" width="6.9" height="13.2" rx="1.6" ry="2.6" fill="#3a97ad"/>
<path d="M579.5,267.4 L580.4,267.4 L581.1,279.3 L578.8,279.3Z" fill="#ee6a35"/>
<path d="M578.8,293.3 L581.1,293.3 L580.4,313.3 L579.5,313.3Z" fill="#ee6a35"/>
<rect x="576" y="277.8" width="7.9" height="17" rx="2.4" ry="3.8" fill="#ee6a35"/>
<path d="M589.1,276.2 L590.1,276.2 L590.8,284.9 L588.5,284.9Z" fill="#ee6a35"/>
<path d="M588.5,304 L590.8,304 L590.1,319.2 L589.1,319.2Z" fill="#ee6a35"/>
<rect x="586.2" y="283.4" width="6.8" height="22.1" rx="2.4" ry="3.8" fill="#ee6a35"/>
<path d="M598.8,276.2 L599.8,276.2 L600.4,296.3 L598.1,296.3Z" fill="#ee6a35"/>
<path d="M598.1,320.2 L600.4,320.2 L599.8,336.8 L598.8,336.8Z" fill="#ee6a35"/>
<rect x="595.4" y="294.8" width="7.8" height="26.9" rx="2.4" ry="3.8" fill="#ee6a35"/>
<path d="M609.8,300.6 L610.8,300.6 L611.4,320.7 L609.1,320.7Z" fill="#ee6a35"/>
<path d="M609.1,336.6 L611.4,336.6 L610.8,359.2 L609.8,359.2Z" fill="#ee6a35"/>
<rect x="606.1" y="319.2" width="8.4" height="18.9" rx="2.4" ry="3.8" fill="#ee6a35"/>
<path d="M619.4,308.8 L620.4,308.8 L621,315.8 L618.8,315.8Z" fill="#43a6ba"/>
<path d="M618.8,330.4 L621,330.4 L620.4,336.8 L619.4,336.8Z" fill="#43a6ba"/>
<rect x="616.5" y="314.3" width="6.8" height="17.6" rx="2.4" ry="3.8" fill="#43a6ba"/>
<path d="M629.1,280.1 L630.1,280.1 L630.8,316.8 L628.5,316.8Z" fill="#43a6ba"/>
<path d="M628.5,322.2 L630.8,322.2 L630.1,331.9 L629.1,331.9Z" fill="#43a6ba"/>
<rect x="625.7" y="315.3" width="7.8" height="8.4" rx="1.6" ry="2.6" fill="#43a6ba"/>
<path d="M639.4,301.6 L640.4,301.6 L641,326 L638.8,326Z" fill="#ee6a35"/>
<path d="M638.8,334.3 L641,334.3 L640.4,347.5 L639.4,347.5Z" fill="#ee6a35"/>
<rect x="636" y="324.5" width="7.8" height="11.3" rx="1.6" ry="2.6" fill="#ee6a35"/>
<path d="M649.7,322 L650.6,322 L651.3,328.9 L649,328.9Z" fill="#ee6a35"/>
<path d="M649,353.2 L651.3,353.2 L650.6,373.3 L649.7,373.3Z" fill="#ee6a35"/>
<rect x="646.3" y="327.4" width="7.7" height="27.3" rx="2.4" ry="3.8" fill="#ee6a35"/>
<path d="M661,336.2 L662,336.2 L662.6,351.7 L660.4,351.7Z" fill="#ee6a35"/>
<path d="M660.4,364 L662.6,364 L662,388 L661,388Z" fill="#ee6a35"/>
<rect x="658" y="350.2" width="7" height="15.3" rx="2.4" ry="3.8" fill="#ee6a35"/>
<path d="M671.3,362.5 L672.2,362.5 L672.9,372.8 L670.6,372.8Z" fill="#ee6a35"/>
<path d="M670.6,384.5 L672.9,384.5 L672.2,402.6 L671.3,402.6Z" fill="#ee6a35"/>
<rect x="668" y="371.3" width="7.5" height="14.7" rx="2.4" ry="3.8" fill="#ee6a35"/>
<path d="M681.2,356 L682.1,356 L682.8,372.5 L680.5,372.5Z" fill="#3a97ad"/>
<path d="M680.5,380.5 L682.8,380.5 L682.1,394.4 L681.2,394.4Z" fill="#3a97ad"/>
<rect x="678" y="371" width="7.3" height="11" rx="1.6" ry="2.6" fill="#3a97ad"/>
<path d="M691.4,349.3 L692.4,349.3 L693,366.5 L690.8,366.5Z" fill="#3a97ad"/>
<path d="M690.8,372.8 L693,372.8 L692.4,383.4 L691.4,383.4Z" fill="#3a97ad"/>
<rect x="688.8" y="365" width="6.2" height="9.3" rx="1.6" ry="2.6" fill="#3a97ad"/>
<path d="M700,355.7 L701,355.7 L701.6,367.9 L699.4,367.9Z" fill="#ee6a35"/>
<path d="M699.4,377.5 L701.6,377.5 L701,393.8 L700,393.8Z" fill="#ee6a35"/>
<rect x="697" y="366.4" width="7" height="12.6" rx="1.6" ry="2.6" fill="#ee6a35"/>
<path d="M708.6,367 L709.5,367 L710.2,374.8 L707.9,374.8Z" fill="#ee6a35"/>
<path d="M707.9,383.5 L710.2,383.5 L709.5,396.7 L708.6,396.7Z" fill="#ee6a35"/>
<rect x="705.4" y="373.3" width="7.3" height="11.7" rx="1.6" ry="2.6" fill="#ee6a35"/>
<path d="M718.1,369.4 L719,369.4 L719.7,380.3 L717.4,380.3Z" fill="#ee6a35"/>
<path d="M717.4,389 L719.7,389 L719,401.6 L718.1,401.6Z" fill="#ee6a35"/>
<rect x="714.8" y="378.8" width="7.6" height="11.7" rx="1.6" ry="2.6" fill="#ee6a35"/>
<path d="M727.1,361.2 L728,361.2 L728.7,378.7 L726.4,378.7Z" fill="#3a97ad"/>
<path d="M726.4,387 L728.7,387 L728,395.7 L727.1,395.7Z" fill="#3a97ad"/>
<rect x="724.4" y="377.2" width="6.4" height="11.3" rx="1.6" ry="2.6" fill="#3a97ad"/>
<path d="M735.1,359.2 L736.1,359.2 L736.8,367.9 L734.5,367.9Z" fill="#3a97ad"/>
<path d="M734.5,376.3 L736.8,376.3 L736.1,384 L735.1,384Z" fill="#3a97ad"/>
<rect x="732.2" y="366.4" width="6.8" height="11.4" rx="1.6" ry="2.6" fill="#3a97ad"/>
<path d="M744.1,342.4 L745.1,342.4 L745.8,357.2 L743.5,357.2Z" fill="#3a97ad"/>
<path d="M743.5,367.9 L745.8,367.9 L745.1,376.2 L744.1,376.2Z" fill="#3a97ad"/>
<rect x="741.2" y="355.7" width="6.8" height="13.7" rx="1.6" ry="2.6" fill="#3a97ad"/>
<path d="M754.1,336.2 L755.1,336.2 L755.8,344.5 L753.5,344.5Z" fill="#3a97ad"/>
<path d="M753.5,360.1 L755.8,360.1 L755.1,369 L754.1,369Z" fill="#3a97ad"/>
<rect x="751" y="343" width="7.2" height="18.6" rx="2.4" ry="3.8" fill="#3a97ad"/>
<path d="M763.2,329.3 L764.1,329.3 L764.8,334.7 L762.5,334.7Z" fill="#3a97ad"/>
<path d="M762.5,349.3 L764.8,349.3 L764.1,361.2 L763.2,361.2Z" fill="#3a97ad"/>
<rect x="760" y="333.2" width="7.3" height="17.6" rx="2.4" ry="3.8" fill="#3a97ad"/>
<path d="M772.3,312.7 L773.2,312.7 L773.9,326.9 L771.6,326.9Z" fill="#3a97ad"/>
<path d="M771.6,336.5 L773.9,336.5 L773.2,348.9 L772.3,348.9Z" fill="#3a97ad"/>
<rect x="769.3" y="325.4" width="7" height="12.6" rx="1.6" ry="2.6" fill="#3a97ad"/>
<path d="M782.3,296.5 L783.2,296.5 L783.9,311.3 L781.6,311.3Z" fill="#3a97ad"/>
<path d="M781.6,324.9 L783.9,324.9 L783.2,332.7 L782.3,332.7Z" fill="#3a97ad"/>
<rect x="779" y="309.8" width="7.5" height="16.6" rx="2.4" ry="3.8" fill="#3a97ad"/>
<path d="M792.5,281 L793.5,281 L794.1,297.5 L791.9,297.5Z" fill="#3a97ad"/>
<path d="M791.9,305.4 L794.1,305.4 L793.5,317.6 L792.5,317.6Z" fill="#3a97ad"/>
<rect x="789.4" y="296" width="7.2" height="10.9" rx="1.6" ry="2.6" fill="#3a97ad"/>
<path d="M803.5,260 L804.5,260 L805.1,278.1 L802.9,278.1Z" fill="#3a97ad"/>
<path d="M802.9,295.5 L805.1,295.5 L804.5,308.4 L803.5,308.4Z" fill="#3a97ad"/>
<rect x="800" y="276.6" width="8" height="20.4" rx="2.4" ry="3.8" fill="#3a97ad"/>
<path d="M816.6,240 L817.5,240 L818.2,246.5 L815.9,246.5Z" fill="#3a97ad"/>
<path d="M815.9,274.1 L818.2,274.1 L817.5,283.4 L816.6,283.4Z" fill="#3a97ad"/>
<rect x="813.4" y="245" width="7.3" height="30.6" rx="3.2" ry="5.1" fill="#3a97ad"/>
<path d="M825.8,218 L826.8,218 L827.1,237 L825.5,237Z" fill="#3a97ad"/>
<path d="M825.5,256.5 L827.1,256.5 L826.8,266.8 L825.8,266.8Z" fill="#3a97ad"/>
<rect x="824" y="235.5" width="4.6" height="22.5" rx="2.3" ry="3.7" fill="#3a97ad"/>
<path d="M835.5,207.2 L836.4,207.2 L837.1,216.5 L834.8,216.5Z" fill="#3a97ad"/>
<path d="M834.8,238.9 L837.1,238.9 L836.4,255 L835.5,255Z" fill="#3a97ad"/>
<rect x="832.2" y="215" width="7.4" height="25.4" rx="2.4" ry="3.8" fill="#3a97ad"/>
<path d="M849.7,180 L850.6,180 L851.3,184.3 L849,184.3Z" fill="#3a97ad"/>
<path d="M849,227.2 L851.3,227.2 L850.6,230 L849.7,230Z" fill="#3a97ad"/>
<rect x="847" y="182.8" width="6.3" height="45.9" rx="3.1" ry="5" fill="#3a97ad"/>
<path d="M859.5,136.9 L860.4,136.9 L861.1,158.9 L858.8,158.9Z" fill="#3a97ad"/>
<path d="M858.8,205.7 L861.1,205.7 L860.4,209 L859.5,209Z" fill="#3a97ad"/>
<rect x="856.2" y="157.4" width="7.4" height="49.8" rx="3.2" ry="5.1" fill="#3a97ad"/>
<path d="M868.2,150.5 L869.1,150.5 L869.8,159.9 L867.5,159.9Z" fill="#3a97ad"/>
<path d="M867.5,175.5 L869.8,175.5 L869.1,188.6 L868.2,188.6Z" fill="#3a97ad"/>
<rect x="866" y="158.4" width="5.3" height="18.6" rx="2.4" ry="3.8" fill="#3a97ad"/>
<path d="M875.1,139.8 L876,139.8 L876.7,156 L874.4,156Z" fill="#3a97ad"/>
<path d="M874.4,164.7 L876.7,164.7 L876,172 L875.1,172Z" fill="#3a97ad"/>
<rect x="872.8" y="154.5" width="5.5" height="11.7" rx="1.6" ry="2.6" fill="#3a97ad"/>
<path d="M884.3,111.5 L885.2,111.5 L885.9,136.8 L883.6,136.8Z" fill="#3a97ad"/>
<path d="M883.6,155.3 L885.9,155.3 L885.2,175 L884.3,175Z" fill="#3a97ad"/>
<rect x="881" y="135.3" width="7.5" height="21.5" rx="2.4" ry="3.8" fill="#3a97ad"/>
<path d="M894.1,140.4 L895.1,140.4 L895.8,153.5 L893.5,153.5Z" fill="#ee6a35"/>
<path d="M893.5,168.5 L895.8,168.5 L895.1,178.9 L894.1,178.9Z" fill="#ee6a35"/>
<rect x="891" y="152" width="7.2" height="18" rx="2.4" ry="3.8" fill="#ee6a35"/>
<path d="M904.2,152.5 L905.2,152.5 L905.9,160.8 L903.6,160.8Z" fill="#3a97ad"/>
<path d="M903.6,168.5 L905.9,168.5 L905.2,180.8 L904.2,180.8Z" fill="#3a97ad"/>
<rect x="901" y="159.3" width="7.4" height="10.7" rx="1.6" ry="2.6" fill="#3a97ad"/>
<path d="M913.8,126 L914.7,126 L915.4,157.5 L913.1,157.5Z" fill="#3a97ad"/>
<path d="M913.1,166.5 L915.4,166.5 L914.7,172 L913.8,172Z" fill="#3a97ad"/>
<rect x="911" y="156" width="6.4" height="12" rx="1.6" ry="2.6" fill="#3a97ad"/>
<path d="M921.6,142.7 L922.6,142.7 L923.2,155.5 L921,155.5Z" fill="#3a97ad"/>
<path d="M921,159.8 L923.2,159.8 L922.6,176 L921.6,176Z" fill="#3a97ad"/>
<rect x="919" y="154" width="6.2" height="7.3" rx="1.6" ry="2.6" fill="#3a97ad"/>
<path d="M931.2,132 L932.1,132 L932.8,153.5 L930.5,153.5Z" fill="#3a97ad"/>
<path d="M930.5,165.5 L932.8,165.5 L932.1,172 L931.2,172Z" fill="#3a97ad"/>
<rect x="928" y="152" width="7.3" height="15" rx="2.4" ry="3.8" fill="#3a97ad"/>
<path d="M940.8,139.2 L941.8,139.2 L942.4,158.9 L940.1,158.9Z" fill="#c8784f"/>
<path d="M940.1,171.5 L942.4,171.5 L941.8,181.8 L940.8,181.8Z" fill="#c8784f"/>
<rect x="937.9" y="157.4" width="6.8" height="15.6" rx="2.4" ry="3.8" fill="#c8784f"/>
<path d="M951.1,152.5 L952,152.5 L952.7,168.5 L950.4,168.5Z" fill="#ee6a35"/>
<path d="M950.4,190.1 L952.7,190.1 L952,206.2 L951.1,206.2Z" fill="#ee6a35"/>
<rect x="947.4" y="167" width="8.4" height="24.6" rx="2.4" ry="3.8" fill="#ee6a35"/>
<path d="M958.5,162.3 L959.5,162.3 L959.8,169.5 L958.2,169.5Z" fill="#ee6a35"/>
<path d="M958.2,198.9 L959.8,198.9 L959.5,202.3 L958.5,202.3Z" fill="#ee6a35"/>
<rect x="957" y="168" width="4" height="32.4" rx="2" ry="3.2" fill="#ee6a35"/>
<path d="M967.8,166.6 L968.8,166.6 L969.4,189.2 L967.1,189.2Z" fill="#ee6a35"/>
<path d="M967.1,200.2 L969.4,200.2 L968.8,219 L967.8,219Z" fill="#ee6a35"/>
<rect x="964.6" y="187.7" width="7.4" height="14" rx="2.4" ry="3.8" fill="#ee6a35"/>
<path d="M979.8,192.5 L980.7,192.5 L981.4,206.3 L979.1,206.3Z" fill="#ee6a35"/>
<path d="M979.1,217.8 L981.4,217.8 L980.7,236.5 L979.8,236.5Z" fill="#ee6a35"/>
<rect x="976" y="204.8" width="8.5" height="14.5" rx="2.4" ry="3.8" fill="#ee6a35"/>
<path d="M990.3,212 L991.2,212 L991.9,220.5 L989.6,220.5Z" fill="#e08a55"/>
<path d="M989.6,230.1 L991.9,230.1 L991.2,247.2 L990.3,247.2Z" fill="#e08a55"/>
<rect x="987.5" y="219" width="6.5" height="12.6" rx="1.6" ry="2.6" fill="#e08a55"/>
<path d="M998.8,224 L999.8,224 L1000.4,228.2 L998.1,228.2Z" fill="#ee6a35"/>
<path d="M998.1,247.7 L1000.4,247.7 L999.8,256 L998.8,256Z" fill="#ee6a35"/>
<rect x="995.9" y="226.7" width="6.8" height="22.5" rx="2.4" ry="3.8" fill="#ee6a35"/>
<path d="M1007.3,230.6 L1008.2,230.6 L1008.9,251.5 L1006.6,251.5Z" fill="#ee6a35"/>
<path d="M1006.6,270.1 L1008.9,270.1 L1008.2,287.3 L1007.3,287.3Z" fill="#ee6a35"/>
<rect x="1004" y="250" width="7.5" height="21.6" rx="2.4" ry="3.8" fill="#ee6a35"/>
<path d="M1016.3,246.2 L1017.2,246.2 L1017.9,257.5 L1015.6,257.5Z" fill="#ee6a35"/>
<path d="M1015.6,267.2 L1017.9,267.2 L1017.2,288.2 L1016.3,288.2Z" fill="#ee6a35"/>
<rect x="1013.8" y="256" width="5.9" height="12.7" rx="1.6" ry="2.6" fill="#ee6a35"/>
<path d="M1023,248 L1024,248 L1024.3,253.5 L1022.7,253.5Z" fill="#43a6ba"/>
<path d="M1022.7,260.5 L1024.3,260.5 L1024,266 L1023,266Z" fill="#43a6ba"/>
<rect x="1021" y="252" width="5" height="10" rx="1.6" ry="2.6" fill="#43a6ba"/>
<rect x="244.4" y="446" width="1" height="22" fill="#3a8fa8"/>
<rect x="224.8" y="449" width="0.9" height="21" fill="#3a6f86"/>
</g>
<circle cx="1022" cy="65.5" r="1.8" fill="#8fb4d6"/>
</svg>
</div>

<div class="panel" id="p4">
<svg width="457" height="381.5" viewBox="-20 604 457 381.5">
<text x="-1.5" y="639.9" font-size="11.5" fill="#74828f" textLength="117" lengthAdjust="spacingAndGlyphs">CRADEOMIELTNONE</text>
<rect x="120.8" y="640.7" width="53.7" height="0.8" fill="#b0bac6"/>
<rect x="0" y="645" width="405" height="0.8" fill="#e3e7ec"/>
<text x="385" y="659.2" font-size="5" fill="#8e9aa9" textLength="5" lengthAdjust="spacingAndGlyphs">10</text>
<rect x="0" y="667" width="404.4" height="286.5" fill="#cfd6dd" opacity="0.6" filter="url(#soft)"/>
<rect x="0" y="665.3" width="402.9" height="286.3" fill="#eef6f9"/>
<rect x="1.4" y="666.4" width="27.3" height="27" fill="#3f7db0"/>
<rect x="29.9" y="666.4" width="28.4" height="27" fill="#4785b2"/>
<rect x="59.5" y="666.4" width="28.1" height="27" fill="#4f8fb5"/>
<rect x="88.8" y="666.4" width="28.5" height="27" fill="#5a9bbb"/>
<rect x="118.5" y="666.4" width="28.2" height="27" fill="#75b0c3"/>
<rect x="147.9" y="666.4" width="27.9" height="27" fill="#8dc3c8"/>
<rect x="177" y="666.4" width="26.5" height="27" fill="#8ec5c9"/>
<rect x="204.7" y="666.4" width="22.4" height="27" fill="#94c8c8"/>
<rect x="228.3" y="666.4" width="27.5" height="27" fill="#b6d3c0"/>
<rect x="257" y="666.4" width="28.1" height="27" fill="#e3dbad"/>
<rect x="286.3" y="666.4" width="27.9" height="27" fill="#fbb974"/>
<rect x="315.4" y="666.4" width="28" height="27" fill="#f99452"/>
<rect x="344.6" y="666.4" width="28.1" height="27" fill="#d87a45"/>
<rect x="373.9" y="666.4" width="27.9" height="27" fill="#d27b47"/>
<rect x="1.4" y="694.6" width="27.3" height="27.5" fill="#3c78ad"/>
<rect x="29.9" y="694.6" width="28.4" height="27.5" fill="#3e7aae"/>
<rect x="59.5" y="694.6" width="28.1" height="27.5" fill="#4280b1"/>
<rect x="88.8" y="694.6" width="28.5" height="27.5" fill="#4e8fb7"/>
<rect x="118.5" y="694.6" width="28.2" height="27.5" fill="#5e9ebe"/>
<rect x="147.9" y="694.6" width="27.9" height="27.5" fill="#88bfc9"/>
<rect x="177" y="694.6" width="26.5" height="27.5" fill="#8cc4cb"/>
<rect x="204.7" y="694.6" width="22.4" height="27.5" fill="#a9d0c4"/>
<rect x="228.3" y="694.6" width="27.5" height="27.5" fill="#d7d6b2"/>
<rect x="257" y="694.6" width="28.1" height="27.5" fill="#fbc084"/>
<rect x="286.3" y="694.6" width="27.9" height="27.5" fill="#f98a4f"/>
<rect x="315.4" y="694.6" width="28" height="27.5" fill="#e67a47"/>
<rect x="344.6" y="694.6" width="28.1" height="27.5" fill="#dc7d4a"/>
<rect x="373.9" y="694.6" width="27.9" height="27.5" fill="#fab973"/>
<rect x="1.4" y="723.3" width="27.3" height="27.5" fill="#559bc0"/>
<rect x="29.9" y="723.3" width="28.4" height="27.5" fill="#4687b7"/>
<rect x="59.5" y="723.3" width="28.1" height="27.5" fill="#3d76aa"/>
<rect x="88.8" y="723.3" width="28.5" height="27.5" fill="#3f78ab"/>
<rect x="118.5" y="723.3" width="28.2" height="27.5" fill="#5e9ebf"/>
<rect x="147.9" y="723.3" width="27.9" height="27.5" fill="#84bdc9"/>
<rect x="177" y="723.3" width="26.5" height="27.5" fill="#88c0ca"/>
<rect x="204.7" y="723.3" width="22.4" height="27.5" fill="#b8d3be"/>
<rect x="228.3" y="723.3" width="27.5" height="27.5" fill="#f5cf99"/>
<rect x="257" y="723.3" width="28.1" height="27.5" fill="#f9824a"/>
<rect x="286.3" y="723.3" width="27.9" height="27.5" fill="#f99555"/>
<rect x="315.4" y="723.3" width="28" height="27.5" fill="#fab876"/>
<rect x="344.6" y="723.3" width="28.1" height="27.5" fill="#f5cc93"/>
<rect x="373.9" y="723.3" width="27.9" height="27.5" fill="#e7d5a6"/>
<rect x="1.4" y="752" width="27.3" height="27.1" fill="#68aac8"/>
<rect x="29.9" y="752" width="28.4" height="27.1" fill="#69abc9"/>
<rect x="59.5" y="752" width="28.1" height="27.1" fill="#68abc9"/>
<rect x="88.8" y="752" width="28.5" height="27.1" fill="#5a9ec3"/>
<rect x="118.5" y="752" width="28.2" height="27.1" fill="#3d72a8"/>
<rect x="147.9" y="752" width="27.9" height="27.1" fill="#85bccc"/>
<rect x="177" y="752" width="26.5" height="27.1" fill="#e3dcae"/>
<rect x="204.7" y="752" width="22.4" height="27.1" fill="#fac088"/>
<rect x="228.3" y="752" width="27.5" height="27.1" fill="#f9804a"/>
<rect x="257" y="752" width="28.1" height="27.1" fill="#fab97c"/>
<rect x="286.3" y="752" width="27.9" height="27.1" fill="#ecd5a4"/>
<rect x="315.4" y="752" width="28" height="27.1" fill="#e7d5a4"/>
<rect x="344.6" y="752" width="28.1" height="27.1" fill="#c5d6b8"/>
<rect x="373.9" y="752" width="27.9" height="27.1" fill="#aed2c4"/>
<rect x="1.4" y="780.3" width="27.3" height="27.3" fill="#68a9c6"/>
<rect x="29.9" y="780.3" width="28.4" height="27.3" fill="#6aabc8"/>
<rect x="59.5" y="780.3" width="28.1" height="27.3" fill="#6eaeca"/>
<rect x="88.8" y="780.3" width="28.5" height="27.3" fill="#7ab6cb"/>
<rect x="118.5" y="780.3" width="28.2" height="27.3" fill="#82bccb"/>
<rect x="147.9" y="780.3" width="27.9" height="27.3" fill="#a0604c"/>
<rect x="177" y="780.3" width="26.5" height="27.3" fill="#e06c35"/>
<rect x="204.7" y="780.3" width="22.4" height="27.3" fill="#dc7745"/>
<rect x="228.3" y="780.3" width="27.5" height="27.3" fill="#c4d4b4"/>
<rect x="257" y="780.3" width="28.1" height="27.3" fill="#a5d0c6"/>
<rect x="286.3" y="780.3" width="27.9" height="27.3" fill="#a0cec6"/>
<rect x="315.4" y="780.3" width="28" height="27.3" fill="#94c8c8"/>
<rect x="344.6" y="780.3" width="28.1" height="27.3" fill="#92c7c9"/>
<rect x="373.9" y="780.3" width="27.9" height="27.3" fill="#85c0c9"/>
<rect x="1.4" y="808.8" width="27.3" height="27.1" fill="#85bccb"/>
<rect x="29.9" y="808.8" width="28.4" height="27.1" fill="#92c7c8"/>
<rect x="59.5" y="808.8" width="28.1" height="27.1" fill="#8cc3c9"/>
<rect x="88.8" y="808.8" width="28.5" height="27.1" fill="#e6cf9a"/>
<rect x="118.5" y="808.8" width="28.2" height="27.1" fill="#f9bc7b"/>
<rect x="147.9" y="808.8" width="27.9" height="27.1" fill="#c4643a"/>
<rect x="177" y="808.8" width="26.5" height="27.1" fill="#7d6a78"/>
<rect x="204.7" y="808.8" width="22.4" height="27.1" fill="#68a8c6"/>
<rect x="228.3" y="808.8" width="27.5" height="27.1" fill="#78b5c9"/>
<rect x="257" y="808.8" width="28.1" height="27.1" fill="#7ebaca"/>
<rect x="286.3" y="808.8" width="27.9" height="27.1" fill="#82bdca"/>
<rect x="315.4" y="808.8" width="28" height="27.1" fill="#88c2ca"/>
<rect x="344.6" y="808.8" width="28.1" height="27.1" fill="#89c2c8"/>
<rect x="373.9" y="808.8" width="27.9" height="27.1" fill="#88c3c9"/>
<rect x="1.4" y="837.1" width="27.3" height="27.5" fill="#a7d0c8"/>
<rect x="29.9" y="837.1" width="28.4" height="27.5" fill="#c9d6b7"/>
<rect x="59.5" y="837.1" width="28.1" height="27.5" fill="#f3cd97"/>
<rect x="88.8" y="837.1" width="28.5" height="27.5" fill="#fb9e5a"/>
<rect x="118.5" y="837.1" width="28.2" height="27.5" fill="#f97c48"/>
<rect x="147.9" y="837.1" width="27.9" height="27.5" fill="#fabd85"/>
<rect x="177" y="837.1" width="26.5" height="27.5" fill="#9ccbc6"/>
<rect x="204.7" y="837.1" width="22.4" height="27.5" fill="#5d9cc0"/>
<rect x="228.3" y="837.1" width="27.5" height="27.5" fill="#427fb2"/>
<rect x="257" y="837.1" width="28.1" height="27.5" fill="#5a9cc0"/>
<rect x="286.3" y="837.1" width="27.9" height="27.5" fill="#6aaac5"/>
<rect x="315.4" y="837.1" width="28" height="27.5" fill="#78b5c8"/>
<rect x="344.6" y="837.1" width="28.1" height="27.5" fill="#83bec9"/>
<rect x="373.9" y="837.1" width="27.9" height="27.5" fill="#83bfc9"/>
<rect x="1.4" y="865.8" width="27.3" height="27.3" fill="#eed7a9"/>
<rect x="29.9" y="865.8" width="28.4" height="27.3" fill="#fdab68"/>
<rect x="59.5" y="865.8" width="28.1" height="27.3" fill="#fb8549"/>
<rect x="88.8" y="865.8" width="28.5" height="27.3" fill="#f98f50"/>
<rect x="118.5" y="865.8" width="28.2" height="27.3" fill="#fab573"/>
<rect x="147.9" y="865.8" width="27.9" height="27.3" fill="#c9d8bb"/>
<rect x="177" y="865.8" width="26.5" height="27.3" fill="#8ec5c9"/>
<rect x="204.7" y="865.8" width="22.4" height="27.3" fill="#7ab8cc"/>
<rect x="228.3" y="865.8" width="27.5" height="27.3" fill="#69aac8"/>
<rect x="257" y="865.8" width="28.1" height="27.3" fill="#4079ad"/>
<rect x="286.3" y="865.8" width="27.9" height="27.3" fill="#5593bb"/>
<rect x="315.4" y="865.8" width="28" height="27.3" fill="#62a2c2"/>
<rect x="344.6" y="865.8" width="28.1" height="27.3" fill="#6aaac5"/>
<rect x="373.9" y="865.8" width="27.9" height="27.3" fill="#70b0c8"/>
<rect x="1.4" y="894.3" width="27.3" height="27.5" fill="#e88049"/>
<rect x="29.9" y="894.3" width="28.4" height="27.5" fill="#d37444"/>
<rect x="59.5" y="894.3" width="28.1" height="27.5" fill="#f98f52"/>
<rect x="88.8" y="894.3" width="28.5" height="27.5" fill="#fbbd7e"/>
<rect x="118.5" y="894.3" width="28.2" height="27.5" fill="#e2d8ae"/>
<rect x="147.9" y="894.3" width="27.9" height="27.5" fill="#a6d0c6"/>
<rect x="177" y="894.3" width="26.5" height="27.5" fill="#78b4cb"/>
<rect x="204.7" y="894.3" width="22.4" height="27.5" fill="#7cb8cc"/>
<rect x="228.3" y="894.3" width="27.5" height="27.5" fill="#6aabc9"/>
<rect x="257" y="894.3" width="28.1" height="27.5" fill="#66a8c7"/>
<rect x="286.3" y="894.3" width="27.9" height="27.5" fill="#3f77ab"/>
<rect x="315.4" y="894.3" width="28" height="27.5" fill="#3d73a8"/>
<rect x="344.6" y="894.3" width="28.1" height="27.5" fill="#4580af"/>
<rect x="373.9" y="894.3" width="27.9" height="27.5" fill="#4d8cb6"/>
<rect x="1.4" y="923" width="27.3" height="27.5" fill="#cf7443"/>
<rect x="29.9" y="923" width="28.4" height="27.5" fill="#f0a060"/>
<rect x="59.5" y="923" width="28.1" height="27.5" fill="#f9c48a"/>
<rect x="88.8" y="923" width="28.5" height="27.5" fill="#e6d7a9"/>
<rect x="118.5" y="923" width="28.2" height="27.5" fill="#b4d4c4"/>
<rect x="147.9" y="923" width="27.9" height="27.5" fill="#8ec5cd"/>
<rect x="177" y="923" width="26.5" height="27.5" fill="#82bdcc"/>
<rect x="204.7" y="923" width="22.4" height="27.5" fill="#79b6cc"/>
<rect x="228.3" y="923" width="27.5" height="27.5" fill="#6fafca"/>
<rect x="257" y="923" width="28.1" height="27.5" fill="#60a2c4"/>
<rect x="286.3" y="923" width="27.9" height="27.5" fill="#5798be"/>
<rect x="315.4" y="923" width="28" height="27.5" fill="#3f7aae"/>
<rect x="344.6" y="923" width="28.1" height="27.5" fill="#3c72a7"/>
<rect x="373.9" y="923" width="27.9" height="27.5" fill="#3b6da4"/>
<path d="M88.7,751.9 L117.4,751.9 L117.4,775 C110,772 102,762 88.7,756 Z" fill="#3d6d9f"/>
<path d="M176.9,816 C184,818 190,826 192,836 L176.9,836 Z" fill="#8d93ad" opacity="0.8"/>
<path d="M88.7,808.7 L117.4,808.7 L117.4,820 C108,817 98,815 88.7,819 Z" fill="#b3d2bd"/>
</svg>
</div>

<div class="panel" id="p5">
<svg width="600" height="381.5" viewBox="457 604 600 381.5">
<text x="483.3" y="639.4" font-size="13.6" fill="#7a8898" textLength="110" lengthAdjust="spacingAndGlyphs">TRADE RETURNS</text>
<rect x="596.9" y="640" width="46.5" height="1" fill="#b9c2cd"/>
<rect x="643" y="641.2" width="390" height="0.8" fill="#e1e5ea"/>
<rect x="505" y="652.9" width="525" height="0.8" fill="#edeff2"/>
<text x="484" y="656" font-size="7.5" fill="#9aa5b3" textLength="13.5" lengthAdjust="spacingAndGlyphs">900</text>
<rect x="505" y="692.2" width="525" height="0.8" fill="#edeff2"/>
<text x="484" y="695.3" font-size="7.5" fill="#9aa5b3" textLength="13.5" lengthAdjust="spacingAndGlyphs">380</text>
<rect x="505" y="731.4" width="525" height="0.8" fill="#edeff2"/>
<text x="484" y="734.5" font-size="7.5" fill="#9aa5b3" textLength="13.5" lengthAdjust="spacingAndGlyphs">310</text>
<rect x="505" y="771.8" width="525" height="0.8" fill="#edeff2"/>
<text x="484" y="774.9" font-size="7.5" fill="#9aa5b3" textLength="13.5" lengthAdjust="spacingAndGlyphs">350</text>
<rect x="505" y="812.1" width="525" height="0.8" fill="#edeff2"/>
<text x="484" y="815.2" font-size="7.5" fill="#9aa5b3" textLength="13.5" lengthAdjust="spacingAndGlyphs">280</text>
<rect x="505" y="853.1" width="525" height="0.8" fill="#edeff2"/>
<text x="484" y="856.2" font-size="7.5" fill="#9aa5b3" textLength="13.5" lengthAdjust="spacingAndGlyphs">101</text>
<text x="492" y="906" font-size="8" fill="#9aa5b3">0</text>
<rect x="552.2" y="653" width="0.8" height="270" fill="#eff1f4"/>
<rect x="600.9" y="653" width="0.8" height="270" fill="#eff1f4"/>
<rect x="654.2" y="653" width="0.8" height="270" fill="#eff1f4"/>
<rect x="707.4" y="653" width="0.8" height="270" fill="#eff1f4"/>
<rect x="749.5" y="653" width="0.8" height="270" fill="#eff1f4"/>
<rect x="799.9" y="653" width="0.8" height="270" fill="#eff1f4"/>
<rect x="844.8" y="653" width="0.8" height="270" fill="#eff1f4"/>
<rect x="898" y="653" width="0.8" height="270" fill="#eff1f4"/>
<rect x="945.6" y="653" width="0.8" height="270" fill="#eff1f4"/>
<rect x="992.2" y="653" width="0.8" height="270" fill="#eff1f4"/>
<path d="M660,910 C666.7,909.5 683.3,907.8 700,907 C716.7,906.2 705,905.3 760,905 C815,904.7 985,905 1030,905 L1030,931.4 C1017.8,931 978.2,929.6 957,928.7 C935.8,927.8 915.7,925.1 903,926 C890.3,926.9 890,930.7 881,934 C872,937.3 861.6,943.2 849,946 C836.4,948.8 818.2,951 805.5,951 C792.8,951 782.1,948.8 773,946 C763.9,943.2 760.9,937.8 751,934 C741.1,930.2 723.7,926.2 713.5,923 C703.3,919.8 698.9,917 690,915 C681.1,913 665,911.7 660,911Z" fill="#e0edf2" opacity="0.9" filter="url(#soft2)"/>
<path d="M770,908 C775,907.7 785,906.3 800,906 C815,905.7 840,905.8 860,906 C880,906.2 910,906.8 920,907 L920,915 C915,916.2 901.7,918.8 890,922 C878.3,925.2 863.3,931 850,934 C836.7,937 820.8,940 810,940 C799.2,940 791.7,937 785,934 C778.3,931 772.5,924 770,922Z" fill="#dbeaf0" opacity="0.6" filter="url(#soft2)"/>
<linearGradient id="b5_0" x1="0" y1="0" x2="0" y2="1"><stop offset="0" stop-color="#70acc7"/><stop offset="1" stop-color="#98c4d6"/></linearGradient>
<rect x="506" y="879.8" width="21.4" height="23.4" fill="url(#b5_0)"/>
<linearGradient id="b5_1" x1="0" y1="0" x2="0" y2="1"><stop offset="0" stop-color="#70acc7"/><stop offset="1" stop-color="#98c4d6"/></linearGradient>
<rect x="532.4" y="878.7" width="25.8" height="24.5" fill="url(#b5_1)"/>
<linearGradient id="b5_2" x1="0" y1="0" x2="0" y2="1"><stop offset="0" stop-color="#6daac6"/><stop offset="1" stop-color="#99c5d6"/></linearGradient>
<rect x="563.8" y="864.7" width="25.8" height="38.5" fill="url(#b5_2)"/>
<linearGradient id="b5_3" x1="0" y1="0" x2="0" y2="1"><stop offset="0" stop-color="#69a8c4"/><stop offset="1" stop-color="#9ac5d7"/></linearGradient>
<rect x="595.2" y="845.6" width="25.8" height="57.6" fill="url(#b5_3)"/>
<linearGradient id="b5_4" x1="0" y1="0" x2="0" y2="1"><stop offset="0" stop-color="#6caac5"/><stop offset="1" stop-color="#99c5d6"/></linearGradient>
<rect x="626" y="859" width="25.8" height="44.2" fill="url(#b5_4)"/>
<linearGradient id="b5_5" x1="0" y1="0" x2="0" y2="1"><stop offset="0" stop-color="#66a6c3"/><stop offset="1" stop-color="#9bc6d7"/></linearGradient>
<rect x="657.4" y="826.5" width="25.2" height="76.7" fill="url(#b5_5)"/>
<linearGradient id="b5_6" x1="0" y1="0" x2="0" y2="1"><stop offset="0" stop-color="#5fa1c0"/><stop offset="1" stop-color="#9dc7d8"/></linearGradient>
<rect x="688.2" y="789" width="25.8" height="114.2" fill="url(#b5_6)"/>
<linearGradient id="b5_7" x1="0" y1="0" x2="0" y2="1"><stop offset="0" stop-color="#5a9ebe"/><stop offset="1" stop-color="#9ec8d8"/></linearGradient>
<rect x="719.6" y="763.8" width="25.8" height="139.4" fill="url(#b5_7)"/>
<linearGradient id="b5_8" x1="0" y1="0" x2="0" y2="1"><stop offset="0" stop-color="#569cbc"/><stop offset="1" stop-color="#9fc9d9"/></linearGradient>
<rect x="751" y="742.5" width="25.8" height="160.7" fill="url(#b5_8)"/>
<linearGradient id="b5_9" x1="0" y1="0" x2="0" y2="1"><stop offset="0" stop-color="#4d96b8"/><stop offset="1" stop-color="#a2cad9"/></linearGradient>
<rect x="782.4" y="697.6" width="25.2" height="205.6" fill="url(#b5_9)"/>
<linearGradient id="b5_10" x1="0" y1="0" x2="0" y2="1"><stop offset="0" stop-color="#549abb"/><stop offset="1" stop-color="#a0c9d9"/></linearGradient>
<rect x="813.2" y="732.4" width="25.8" height="170.8" fill="url(#b5_10)"/>
<linearGradient id="b5_11" x1="0" y1="0" x2="0" y2="1"><stop offset="0" stop-color="#4893b6"/><stop offset="1" stop-color="#a3cbda"/></linearGradient>
<rect x="844" y="670.7" width="25.3" height="232.5" fill="url(#b5_11)"/>
<linearGradient id="b5_12" x1="0" y1="0" x2="0" y2="1"><stop offset="0" stop-color="#589dbd"/><stop offset="1" stop-color="#9fc8d8"/></linearGradient>
<rect x="874.3" y="755.9" width="25.8" height="147.3" fill="url(#b5_12)"/>
<linearGradient id="b5_13" x1="0" y1="0" x2="0" y2="1"><stop offset="0" stop-color="#5fa2c0"/><stop offset="1" stop-color="#9dc7d8"/></linearGradient>
<rect x="905.2" y="791.8" width="25.8" height="111.4" fill="url(#b5_13)"/>
<linearGradient id="b5_14" x1="0" y1="0" x2="0" y2="1"><stop offset="0" stop-color="#6ca9c5"/><stop offset="1" stop-color="#99c5d6"/></linearGradient>
<rect x="936" y="856.8" width="25.8" height="46.4" fill="url(#b5_14)"/>
<linearGradient id="b5_15" x1="0" y1="0" x2="0" y2="1"><stop offset="0" stop-color="#66a6c3"/><stop offset="1" stop-color="#9bc6d7"/></linearGradient>
<rect x="966.8" y="828.8" width="25.8" height="74.4" fill="url(#b5_15)"/>
<linearGradient id="b5_16" x1="0" y1="0" x2="0" y2="1"><stop offset="0" stop-color="#6caac5"/><stop offset="1" stop-color="#99c5d6"/></linearGradient>
<rect x="997.6" y="859" width="32.4" height="44.2" fill="url(#b5_16)"/>
<rect x="503" y="903.1" width="530" height="0.9" fill="#dfe4e9"/>
<path d="M507.7,861.9 C512.2,860.7 526,857.3 535,854.5 C544,851.7 552.8,849 562,845 C571.2,841 580.7,835.7 590,830.5 C599.3,825.3 608.7,819.9 618,814 C627.3,808.1 636.7,801.5 646,795 C655.3,788.5 664.7,781.7 674,775 C683.3,768.3 692.7,761.5 702,755 C711.3,748.5 720.7,741.4 730,735.7 C739.3,730 748.6,725.2 758,721 C767.4,716.8 777.3,713.2 786.3,710.5 C795.3,707.8 803.6,705.9 812,704.5 C820.4,703.1 829.1,702.2 836.8,702 C844.5,701.8 851.5,702.5 858,703.5 C864.5,704.5 869,705.1 876,707.7 C883,710.3 891.6,714.3 900,719 C908.4,723.7 918.2,729.7 926.5,735.7 C934.8,741.7 942.5,748.5 950,755 C957.5,761.5 963.3,767.3 971.3,775 C979.3,782.7 988.2,791.5 998,801 C1007.8,810.5 1024.7,826.8 1030,832" fill="none" stroke="#ee8845" stroke-width="2"/>
<rect x="545.3" y="909" width="0.8" height="6" fill="#b8c2cc"/>
<rect x="765" y="909" width="0.8" height="6" fill="#b8c2cc"/>
<rect x="858" y="909" width="0.8" height="6" fill="#b8c2cc"/>
<text x="541.6" y="925.4" font-size="7" fill="#a3aebb" textLength="12" lengthAdjust="spacingAndGlyphs">pgn</text>
<text x="647.7" y="925.4" font-size="7" fill="#a3aebb" textLength="10.5" lengthAdjust="spacingAndGlyphs">0(0</text>
<text x="750" y="925.4" font-size="7" fill="#a3aebb" textLength="19" lengthAdjust="spacingAndGlyphs">(W)G</text>
<text x="792" y="925.4" font-size="7" fill="#a3aebb" textLength="11" lengthAdjust="spacingAndGlyphs">n.g</text>
<text x="855" y="925.4" font-size="7" fill="#a3aebb" textLength="21" lengthAdjust="spacingAndGlyphs">ctm</text>
<text x="991" y="925.4" font-size="7" fill="#a3aebb" textLength="22" lengthAdjust="spacingAndGlyphs">(.nn.),</text>
<text x="587.6" y="939.8" font-size="7.5" fill="#8794a4" textLength="20.5" lengthAdjust="spacingAndGlyphs">10001</text>
<text x="701" y="939.8" font-size="7.5" fill="#8794a4" textLength="17" lengthAdjust="spacingAndGlyphs">2000</text>
<text x="855" y="939.8" font-size="7.5" fill="#8794a4" textLength="15.5" lengthAdjust="spacingAndGlyphs">1040</text>
<text x="936.5" y="939.8" font-size="7.5" fill="#8794a4" textLength="19.5" lengthAdjust="spacingAndGlyphs">10000</text>
<text x="985" y="932" font-size="5.5" fill="#a9b4c0" textLength="34" lengthAdjust="spacingAndGlyphs">m., - aror</text>
<rect x="771" y="923" width="104" height="0.7" fill="#c2cdd5"/>
<path d="M913.5,917.3 C935,916 958,915 979,914.6" fill="none" stroke="#ecA77c" stroke-width="1"/>
<path d="M897,927 C905,925 914,921.6 924.5,921.4 L946,921.4" fill="none" stroke="#ecA77c" stroke-width="1"/>
</svg>
</div>
</body>
</html>
